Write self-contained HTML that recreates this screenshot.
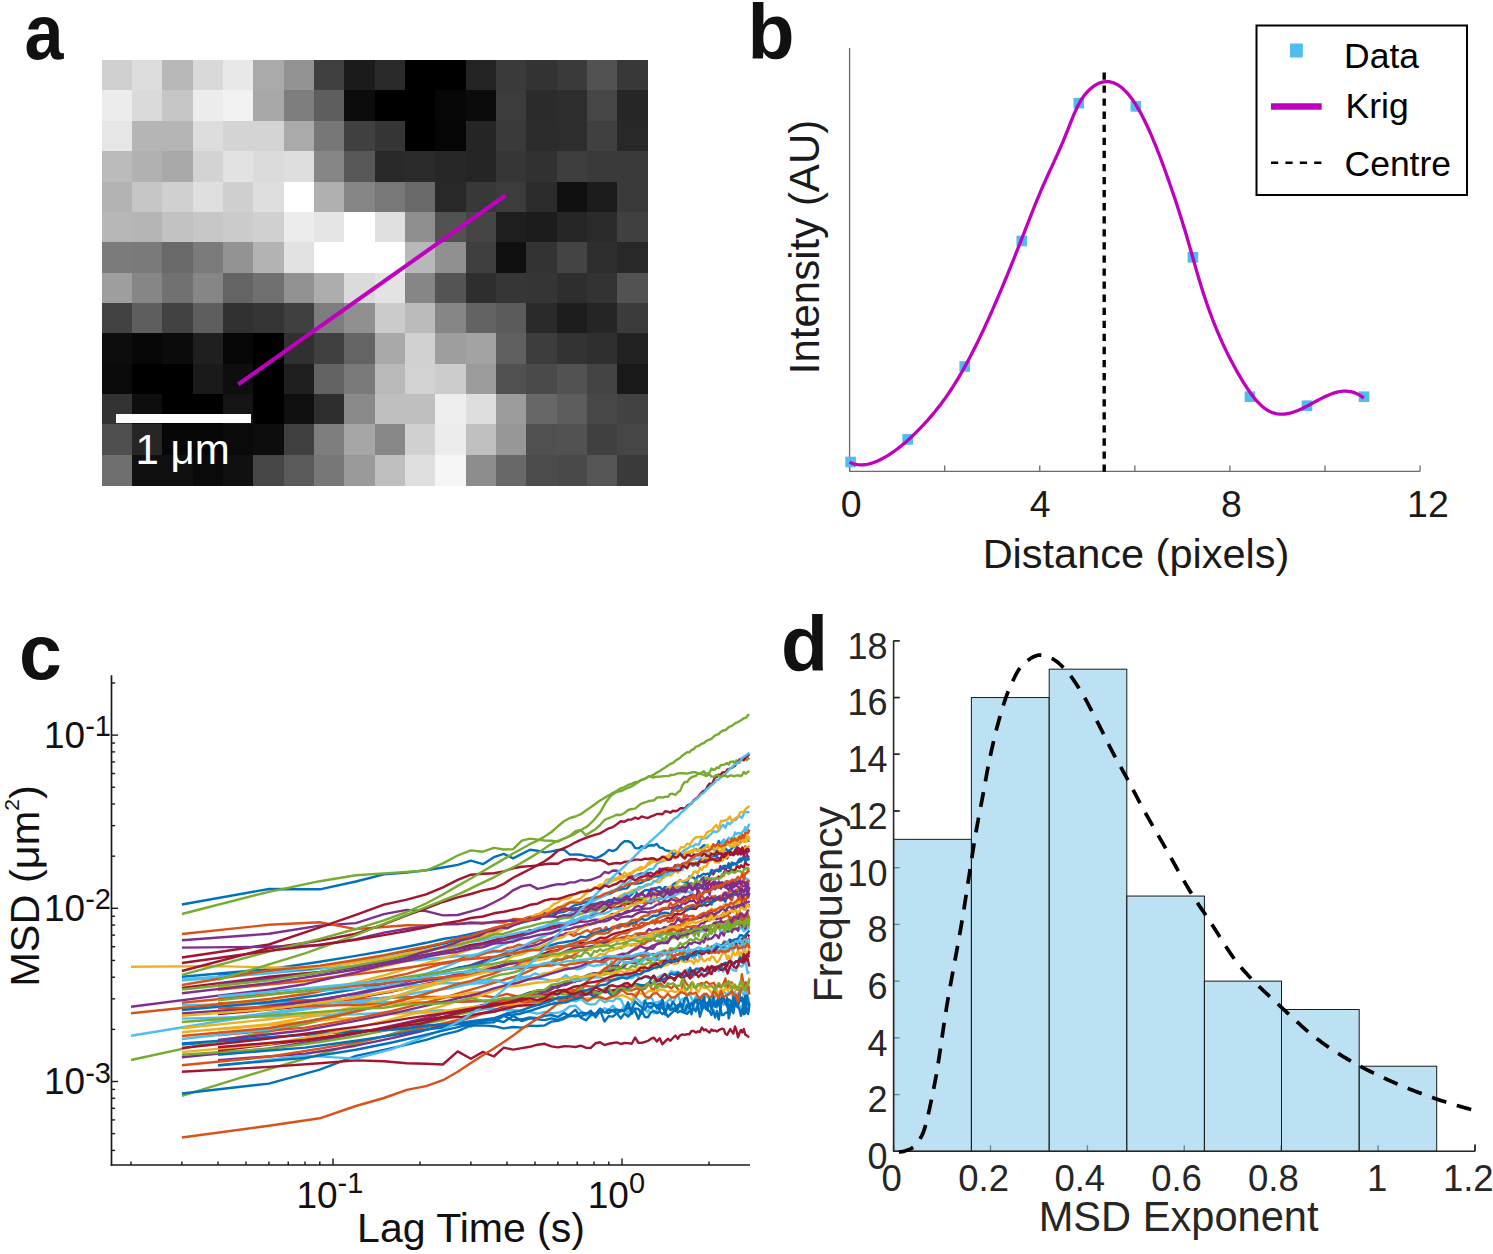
<!DOCTYPE html>
<html><head><meta charset="utf-8"><style>
html,body{margin:0;padding:0;background:#fff;width:1493px;height:1254px;overflow:hidden}
svg{display:block;font-family:"Liberation Sans", sans-serif}
</style></head><body>
<svg width="1493" height="1254" viewBox="0 0 1493 1254">
<rect width="1493" height="1254" fill="#fff"/>
<text transform="matrix(0.91 0 0 1 24.45 0)" x="0" y="59.2" font-size="77" fill="#111" font-weight="bold">a</text>
<text x="747.4" y="59.2" font-size="77" text-anchor="start" fill="#111" font-weight="bold" >b</text>
<text x="19.1" y="678.7" font-size="77" text-anchor="start" fill="#111" font-weight="bold" >c</text>
<text x="780.9" y="670.7" font-size="77" text-anchor="start" fill="#111" font-weight="bold" >d</text>
<g shape-rendering="crispEdges">
<rect x="101.7" y="60.1" width="30.93" height="30.96" fill="rgb(208,208,208)"/>
<rect x="132.03" y="60.1" width="30.93" height="30.96" fill="rgb(221,221,221)"/>
<rect x="162.37" y="60.1" width="30.93" height="30.96" fill="rgb(184,184,184)"/>
<rect x="192.7" y="60.1" width="30.93" height="30.96" fill="rgb(217,217,217)"/>
<rect x="223.03" y="60.1" width="30.93" height="30.96" fill="rgb(232,232,232)"/>
<rect x="253.37" y="60.1" width="30.93" height="30.96" fill="rgb(170,170,170)"/>
<rect x="283.7" y="60.1" width="30.93" height="30.96" fill="rgb(147,147,147)"/>
<rect x="314.03" y="60.1" width="30.93" height="30.96" fill="rgb(64,64,64)"/>
<rect x="344.37" y="60.1" width="30.93" height="30.96" fill="rgb(27,27,27)"/>
<rect x="374.7" y="60.1" width="30.93" height="30.96" fill="rgb(42,42,42)"/>
<rect x="405.03" y="60.1" width="30.93" height="30.96" fill="rgb(0,0,0)"/>
<rect x="435.37" y="60.1" width="30.93" height="30.96" fill="rgb(0,0,0)"/>
<rect x="465.7" y="60.1" width="30.93" height="30.96" fill="rgb(35,35,35)"/>
<rect x="496.03" y="60.1" width="30.93" height="30.96" fill="rgb(58,58,58)"/>
<rect x="526.37" y="60.1" width="30.93" height="30.96" fill="rgb(51,51,51)"/>
<rect x="556.7" y="60.1" width="30.93" height="30.96" fill="rgb(58,58,58)"/>
<rect x="587.03" y="60.1" width="30.93" height="30.96" fill="rgb(82,82,82)"/>
<rect x="617.37" y="60.1" width="30.93" height="30.96" fill="rgb(56,56,56)"/>
<rect x="101.7" y="90.46" width="30.93" height="30.96" fill="rgb(236,236,236)"/>
<rect x="132.03" y="90.46" width="30.93" height="30.96" fill="rgb(218,218,218)"/>
<rect x="162.37" y="90.46" width="30.93" height="30.96" fill="rgb(198,198,198)"/>
<rect x="192.7" y="90.46" width="30.93" height="30.96" fill="rgb(236,236,236)"/>
<rect x="223.03" y="90.46" width="30.93" height="30.96" fill="rgb(242,242,242)"/>
<rect x="253.37" y="90.46" width="30.93" height="30.96" fill="rgb(168,168,168)"/>
<rect x="283.7" y="90.46" width="30.93" height="30.96" fill="rgb(125,125,125)"/>
<rect x="314.03" y="90.46" width="30.93" height="30.96" fill="rgb(94,94,94)"/>
<rect x="344.37" y="90.46" width="30.93" height="30.96" fill="rgb(12,12,12)"/>
<rect x="374.7" y="90.46" width="30.93" height="30.96" fill="rgb(0,0,0)"/>
<rect x="405.03" y="90.46" width="30.93" height="30.96" fill="rgb(0,0,0)"/>
<rect x="435.37" y="90.46" width="30.93" height="30.96" fill="rgb(7,7,7)"/>
<rect x="465.7" y="90.46" width="30.93" height="30.96" fill="rgb(11,11,11)"/>
<rect x="496.03" y="90.46" width="30.93" height="30.96" fill="rgb(60,60,60)"/>
<rect x="526.37" y="90.46" width="30.93" height="30.96" fill="rgb(43,43,43)"/>
<rect x="556.7" y="90.46" width="30.93" height="30.96" fill="rgb(45,45,45)"/>
<rect x="587.03" y="90.46" width="30.93" height="30.96" fill="rgb(70,70,70)"/>
<rect x="617.37" y="90.46" width="30.93" height="30.96" fill="rgb(38,38,38)"/>
<rect x="101.7" y="120.83" width="30.93" height="30.96" fill="rgb(230,230,230)"/>
<rect x="132.03" y="120.83" width="30.93" height="30.96" fill="rgb(181,181,181)"/>
<rect x="162.37" y="120.83" width="30.93" height="30.96" fill="rgb(181,181,181)"/>
<rect x="192.7" y="120.83" width="30.93" height="30.96" fill="rgb(221,221,221)"/>
<rect x="223.03" y="120.83" width="30.93" height="30.96" fill="rgb(212,212,212)"/>
<rect x="253.37" y="120.83" width="30.93" height="30.96" fill="rgb(212,212,212)"/>
<rect x="283.7" y="120.83" width="30.93" height="30.96" fill="rgb(170,170,170)"/>
<rect x="314.03" y="120.83" width="30.93" height="30.96" fill="rgb(119,119,119)"/>
<rect x="344.37" y="120.83" width="30.93" height="30.96" fill="rgb(64,64,64)"/>
<rect x="374.7" y="120.83" width="30.93" height="30.96" fill="rgb(53,53,53)"/>
<rect x="405.03" y="120.83" width="30.93" height="30.96" fill="rgb(0,0,0)"/>
<rect x="435.37" y="120.83" width="30.93" height="30.96" fill="rgb(5,5,5)"/>
<rect x="465.7" y="120.83" width="30.93" height="30.96" fill="rgb(37,37,37)"/>
<rect x="496.03" y="120.83" width="30.93" height="30.96" fill="rgb(58,58,58)"/>
<rect x="526.37" y="120.83" width="30.93" height="30.96" fill="rgb(44,44,44)"/>
<rect x="556.7" y="120.83" width="30.93" height="30.96" fill="rgb(45,45,45)"/>
<rect x="587.03" y="120.83" width="30.93" height="30.96" fill="rgb(64,64,64)"/>
<rect x="617.37" y="120.83" width="30.93" height="30.96" fill="rgb(40,40,40)"/>
<rect x="101.7" y="151.19" width="30.93" height="30.96" fill="rgb(187,187,187)"/>
<rect x="132.03" y="151.19" width="30.93" height="30.96" fill="rgb(177,177,177)"/>
<rect x="162.37" y="151.19" width="30.93" height="30.96" fill="rgb(169,169,169)"/>
<rect x="192.7" y="151.19" width="30.93" height="30.96" fill="rgb(211,211,211)"/>
<rect x="223.03" y="151.19" width="30.93" height="30.96" fill="rgb(226,226,226)"/>
<rect x="253.37" y="151.19" width="30.93" height="30.96" fill="rgb(219,219,219)"/>
<rect x="283.7" y="151.19" width="30.93" height="30.96" fill="rgb(222,222,222)"/>
<rect x="314.03" y="151.19" width="30.93" height="30.96" fill="rgb(134,134,134)"/>
<rect x="344.37" y="151.19" width="30.93" height="30.96" fill="rgb(88,88,88)"/>
<rect x="374.7" y="151.19" width="30.93" height="30.96" fill="rgb(41,41,41)"/>
<rect x="405.03" y="151.19" width="30.93" height="30.96" fill="rgb(43,43,43)"/>
<rect x="435.37" y="151.19" width="30.93" height="30.96" fill="rgb(39,39,39)"/>
<rect x="465.7" y="151.19" width="30.93" height="30.96" fill="rgb(37,37,37)"/>
<rect x="496.03" y="151.19" width="30.93" height="30.96" fill="rgb(54,54,54)"/>
<rect x="526.37" y="151.19" width="30.93" height="30.96" fill="rgb(49,49,49)"/>
<rect x="556.7" y="151.19" width="30.93" height="30.96" fill="rgb(62,62,62)"/>
<rect x="587.03" y="151.19" width="30.93" height="30.96" fill="rgb(58,58,58)"/>
<rect x="617.37" y="151.19" width="30.93" height="30.96" fill="rgb(58,58,58)"/>
<rect x="101.7" y="181.56" width="30.93" height="30.96" fill="rgb(179,179,179)"/>
<rect x="132.03" y="181.56" width="30.93" height="30.96" fill="rgb(198,198,198)"/>
<rect x="162.37" y="181.56" width="30.93" height="30.96" fill="rgb(208,208,208)"/>
<rect x="192.7" y="181.56" width="30.93" height="30.96" fill="rgb(223,223,223)"/>
<rect x="223.03" y="181.56" width="30.93" height="30.96" fill="rgb(207,207,207)"/>
<rect x="253.37" y="181.56" width="30.93" height="30.96" fill="rgb(222,222,222)"/>
<rect x="283.7" y="181.56" width="30.93" height="30.96" fill="rgb(255,255,255)"/>
<rect x="314.03" y="181.56" width="30.93" height="30.96" fill="rgb(176,176,176)"/>
<rect x="344.37" y="181.56" width="30.93" height="30.96" fill="rgb(134,134,134)"/>
<rect x="374.7" y="181.56" width="30.93" height="30.96" fill="rgb(120,120,120)"/>
<rect x="405.03" y="181.56" width="30.93" height="30.96" fill="rgb(105,105,105)"/>
<rect x="435.37" y="181.56" width="30.93" height="30.96" fill="rgb(40,40,40)"/>
<rect x="465.7" y="181.56" width="30.93" height="30.96" fill="rgb(56,56,56)"/>
<rect x="496.03" y="181.56" width="30.93" height="30.96" fill="rgb(60,60,60)"/>
<rect x="526.37" y="181.56" width="30.93" height="30.96" fill="rgb(44,44,44)"/>
<rect x="556.7" y="181.56" width="30.93" height="30.96" fill="rgb(16,16,16)"/>
<rect x="587.03" y="181.56" width="30.93" height="30.96" fill="rgb(28,28,28)"/>
<rect x="617.37" y="181.56" width="30.93" height="30.96" fill="rgb(58,58,58)"/>
<rect x="101.7" y="211.92" width="30.93" height="30.96" fill="rgb(183,183,183)"/>
<rect x="132.03" y="211.92" width="30.93" height="30.96" fill="rgb(181,181,181)"/>
<rect x="162.37" y="211.92" width="30.93" height="30.96" fill="rgb(194,194,194)"/>
<rect x="192.7" y="211.92" width="30.93" height="30.96" fill="rgb(199,199,199)"/>
<rect x="223.03" y="211.92" width="30.93" height="30.96" fill="rgb(203,203,203)"/>
<rect x="253.37" y="211.92" width="30.93" height="30.96" fill="rgb(208,208,208)"/>
<rect x="283.7" y="211.92" width="30.93" height="30.96" fill="rgb(236,236,236)"/>
<rect x="314.03" y="211.92" width="30.93" height="30.96" fill="rgb(229,229,229)"/>
<rect x="344.37" y="211.92" width="30.93" height="30.96" fill="rgb(255,255,255)"/>
<rect x="374.7" y="211.92" width="30.93" height="30.96" fill="rgb(224,224,224)"/>
<rect x="405.03" y="211.92" width="30.93" height="30.96" fill="rgb(143,143,143)"/>
<rect x="435.37" y="211.92" width="30.93" height="30.96" fill="rgb(82,82,82)"/>
<rect x="465.7" y="211.92" width="30.93" height="30.96" fill="rgb(69,69,69)"/>
<rect x="496.03" y="211.92" width="30.93" height="30.96" fill="rgb(30,30,30)"/>
<rect x="526.37" y="211.92" width="30.93" height="30.96" fill="rgb(28,28,28)"/>
<rect x="556.7" y="211.92" width="30.93" height="30.96" fill="rgb(38,38,38)"/>
<rect x="587.03" y="211.92" width="30.93" height="30.96" fill="rgb(43,43,43)"/>
<rect x="617.37" y="211.92" width="30.93" height="30.96" fill="rgb(64,64,64)"/>
<rect x="101.7" y="242.29" width="30.93" height="30.96" fill="rgb(123,123,123)"/>
<rect x="132.03" y="242.29" width="30.93" height="30.96" fill="rgb(122,122,122)"/>
<rect x="162.37" y="242.29" width="30.93" height="30.96" fill="rgb(105,105,105)"/>
<rect x="192.7" y="242.29" width="30.93" height="30.96" fill="rgb(123,123,123)"/>
<rect x="223.03" y="242.29" width="30.93" height="30.96" fill="rgb(147,147,147)"/>
<rect x="253.37" y="242.29" width="30.93" height="30.96" fill="rgb(179,179,179)"/>
<rect x="283.7" y="242.29" width="30.93" height="30.96" fill="rgb(226,226,226)"/>
<rect x="314.03" y="242.29" width="30.93" height="30.96" fill="rgb(255,255,255)"/>
<rect x="344.37" y="242.29" width="30.93" height="30.96" fill="rgb(255,255,255)"/>
<rect x="374.7" y="242.29" width="30.93" height="30.96" fill="rgb(255,255,255)"/>
<rect x="405.03" y="242.29" width="30.93" height="30.96" fill="rgb(184,184,184)"/>
<rect x="435.37" y="242.29" width="30.93" height="30.96" fill="rgb(144,144,144)"/>
<rect x="465.7" y="242.29" width="30.93" height="30.96" fill="rgb(63,63,63)"/>
<rect x="496.03" y="242.29" width="30.93" height="30.96" fill="rgb(16,16,16)"/>
<rect x="526.37" y="242.29" width="30.93" height="30.96" fill="rgb(51,51,51)"/>
<rect x="556.7" y="242.29" width="30.93" height="30.96" fill="rgb(68,68,68)"/>
<rect x="587.03" y="242.29" width="30.93" height="30.96" fill="rgb(46,46,46)"/>
<rect x="617.37" y="242.29" width="30.93" height="30.96" fill="rgb(40,40,40)"/>
<rect x="101.7" y="272.65" width="30.93" height="30.96" fill="rgb(158,158,158)"/>
<rect x="132.03" y="272.65" width="30.93" height="30.96" fill="rgb(134,134,134)"/>
<rect x="162.37" y="272.65" width="30.93" height="30.96" fill="rgb(113,113,113)"/>
<rect x="192.7" y="272.65" width="30.93" height="30.96" fill="rgb(134,134,134)"/>
<rect x="223.03" y="272.65" width="30.93" height="30.96" fill="rgb(100,100,100)"/>
<rect x="253.37" y="272.65" width="30.93" height="30.96" fill="rgb(112,112,112)"/>
<rect x="283.7" y="272.65" width="30.93" height="30.96" fill="rgb(146,146,146)"/>
<rect x="314.03" y="272.65" width="30.93" height="30.96" fill="rgb(173,173,173)"/>
<rect x="344.37" y="272.65" width="30.93" height="30.96" fill="rgb(219,219,219)"/>
<rect x="374.7" y="272.65" width="30.93" height="30.96" fill="rgb(227,227,227)"/>
<rect x="405.03" y="272.65" width="30.93" height="30.96" fill="rgb(134,134,134)"/>
<rect x="435.37" y="272.65" width="30.93" height="30.96" fill="rgb(84,84,84)"/>
<rect x="465.7" y="272.65" width="30.93" height="30.96" fill="rgb(46,46,46)"/>
<rect x="496.03" y="272.65" width="30.93" height="30.96" fill="rgb(54,54,54)"/>
<rect x="526.37" y="272.65" width="30.93" height="30.96" fill="rgb(53,53,53)"/>
<rect x="556.7" y="272.65" width="30.93" height="30.96" fill="rgb(46,46,46)"/>
<rect x="587.03" y="272.65" width="30.93" height="30.96" fill="rgb(51,51,51)"/>
<rect x="617.37" y="272.65" width="30.93" height="30.96" fill="rgb(82,82,82)"/>
<rect x="101.7" y="303.01" width="30.93" height="30.96" fill="rgb(66,66,66)"/>
<rect x="132.03" y="303.01" width="30.93" height="30.96" fill="rgb(94,94,94)"/>
<rect x="162.37" y="303.01" width="30.93" height="30.96" fill="rgb(66,66,66)"/>
<rect x="192.7" y="303.01" width="30.93" height="30.96" fill="rgb(94,94,94)"/>
<rect x="223.03" y="303.01" width="30.93" height="30.96" fill="rgb(49,49,49)"/>
<rect x="253.37" y="303.01" width="30.93" height="30.96" fill="rgb(53,53,53)"/>
<rect x="283.7" y="303.01" width="30.93" height="30.96" fill="rgb(64,64,64)"/>
<rect x="314.03" y="303.01" width="30.93" height="30.96" fill="rgb(125,125,125)"/>
<rect x="344.37" y="303.01" width="30.93" height="30.96" fill="rgb(144,144,144)"/>
<rect x="374.7" y="303.01" width="30.93" height="30.96" fill="rgb(203,203,203)"/>
<rect x="405.03" y="303.01" width="30.93" height="30.96" fill="rgb(187,187,187)"/>
<rect x="435.37" y="303.01" width="30.93" height="30.96" fill="rgb(134,134,134)"/>
<rect x="465.7" y="303.01" width="30.93" height="30.96" fill="rgb(99,99,99)"/>
<rect x="496.03" y="303.01" width="30.93" height="30.96" fill="rgb(91,91,91)"/>
<rect x="526.37" y="303.01" width="30.93" height="30.96" fill="rgb(42,42,42)"/>
<rect x="556.7" y="303.01" width="30.93" height="30.96" fill="rgb(29,29,29)"/>
<rect x="587.03" y="303.01" width="30.93" height="30.96" fill="rgb(37,37,37)"/>
<rect x="617.37" y="303.01" width="30.93" height="30.96" fill="rgb(59,59,59)"/>
<rect x="101.7" y="333.38" width="30.93" height="30.96" fill="rgb(13,13,13)"/>
<rect x="132.03" y="333.38" width="30.93" height="30.96" fill="rgb(7,7,7)"/>
<rect x="162.37" y="333.38" width="30.93" height="30.96" fill="rgb(11,11,11)"/>
<rect x="192.7" y="333.38" width="30.93" height="30.96" fill="rgb(31,31,31)"/>
<rect x="223.03" y="333.38" width="30.93" height="30.96" fill="rgb(7,7,7)"/>
<rect x="253.37" y="333.38" width="30.93" height="30.96" fill="rgb(0,0,0)"/>
<rect x="283.7" y="333.38" width="30.93" height="30.96" fill="rgb(48,48,48)"/>
<rect x="314.03" y="333.38" width="30.93" height="30.96" fill="rgb(64,64,64)"/>
<rect x="344.37" y="333.38" width="30.93" height="30.96" fill="rgb(100,100,100)"/>
<rect x="374.7" y="333.38" width="30.93" height="30.96" fill="rgb(169,169,169)"/>
<rect x="405.03" y="333.38" width="30.93" height="30.96" fill="rgb(209,209,209)"/>
<rect x="435.37" y="333.38" width="30.93" height="30.96" fill="rgb(158,158,158)"/>
<rect x="465.7" y="333.38" width="30.93" height="30.96" fill="rgb(163,163,163)"/>
<rect x="496.03" y="333.38" width="30.93" height="30.96" fill="rgb(96,96,96)"/>
<rect x="526.37" y="333.38" width="30.93" height="30.96" fill="rgb(61,61,61)"/>
<rect x="556.7" y="333.38" width="30.93" height="30.96" fill="rgb(51,51,51)"/>
<rect x="587.03" y="333.38" width="30.93" height="30.96" fill="rgb(47,47,47)"/>
<rect x="617.37" y="333.38" width="30.93" height="30.96" fill="rgb(34,34,34)"/>
<rect x="101.7" y="363.74" width="30.93" height="30.96" fill="rgb(10,10,10)"/>
<rect x="132.03" y="363.74" width="30.93" height="30.96" fill="rgb(0,0,0)"/>
<rect x="162.37" y="363.74" width="30.93" height="30.96" fill="rgb(0,0,0)"/>
<rect x="192.7" y="363.74" width="30.93" height="30.96" fill="rgb(26,26,26)"/>
<rect x="223.03" y="363.74" width="30.93" height="30.96" fill="rgb(14,14,14)"/>
<rect x="253.37" y="363.74" width="30.93" height="30.96" fill="rgb(0,0,0)"/>
<rect x="283.7" y="363.74" width="30.93" height="30.96" fill="rgb(31,31,31)"/>
<rect x="314.03" y="363.74" width="30.93" height="30.96" fill="rgb(99,99,99)"/>
<rect x="344.37" y="363.74" width="30.93" height="30.96" fill="rgb(122,122,122)"/>
<rect x="374.7" y="363.74" width="30.93" height="30.96" fill="rgb(185,185,185)"/>
<rect x="405.03" y="363.74" width="30.93" height="30.96" fill="rgb(210,210,210)"/>
<rect x="435.37" y="363.74" width="30.93" height="30.96" fill="rgb(204,204,204)"/>
<rect x="465.7" y="363.74" width="30.93" height="30.96" fill="rgb(155,155,155)"/>
<rect x="496.03" y="363.74" width="30.93" height="30.96" fill="rgb(80,80,80)"/>
<rect x="526.37" y="363.74" width="30.93" height="30.96" fill="rgb(74,74,74)"/>
<rect x="556.7" y="363.74" width="30.93" height="30.96" fill="rgb(82,82,82)"/>
<rect x="587.03" y="363.74" width="30.93" height="30.96" fill="rgb(68,68,68)"/>
<rect x="617.37" y="363.74" width="30.93" height="30.96" fill="rgb(25,25,25)"/>
<rect x="101.7" y="394.11" width="30.93" height="30.96" fill="rgb(51,51,51)"/>
<rect x="132.03" y="394.11" width="30.93" height="30.96" fill="rgb(14,14,14)"/>
<rect x="162.37" y="394.11" width="30.93" height="30.96" fill="rgb(0,0,0)"/>
<rect x="192.7" y="394.11" width="30.93" height="30.96" fill="rgb(0,0,0)"/>
<rect x="223.03" y="394.11" width="30.93" height="30.96" fill="rgb(20,20,20)"/>
<rect x="253.37" y="394.11" width="30.93" height="30.96" fill="rgb(0,0,0)"/>
<rect x="283.7" y="394.11" width="30.93" height="30.96" fill="rgb(15,15,15)"/>
<rect x="314.03" y="394.11" width="30.93" height="30.96" fill="rgb(46,46,46)"/>
<rect x="344.37" y="394.11" width="30.93" height="30.96" fill="rgb(138,138,138)"/>
<rect x="374.7" y="394.11" width="30.93" height="30.96" fill="rgb(191,191,191)"/>
<rect x="405.03" y="394.11" width="30.93" height="30.96" fill="rgb(191,191,191)"/>
<rect x="435.37" y="394.11" width="30.93" height="30.96" fill="rgb(238,238,238)"/>
<rect x="465.7" y="394.11" width="30.93" height="30.96" fill="rgb(222,222,222)"/>
<rect x="496.03" y="394.11" width="30.93" height="30.96" fill="rgb(156,156,156)"/>
<rect x="526.37" y="394.11" width="30.93" height="30.96" fill="rgb(103,103,103)"/>
<rect x="556.7" y="394.11" width="30.93" height="30.96" fill="rgb(93,93,93)"/>
<rect x="587.03" y="394.11" width="30.93" height="30.96" fill="rgb(72,72,72)"/>
<rect x="617.37" y="394.11" width="30.93" height="30.96" fill="rgb(66,66,66)"/>
<rect x="101.7" y="424.47" width="30.93" height="30.96" fill="rgb(79,79,79)"/>
<rect x="132.03" y="424.47" width="30.93" height="30.96" fill="rgb(38,38,38)"/>
<rect x="162.37" y="424.47" width="30.93" height="30.96" fill="rgb(7,7,7)"/>
<rect x="192.7" y="424.47" width="30.93" height="30.96" fill="rgb(7,7,7)"/>
<rect x="223.03" y="424.47" width="30.93" height="30.96" fill="rgb(10,10,10)"/>
<rect x="253.37" y="424.47" width="30.93" height="30.96" fill="rgb(13,13,13)"/>
<rect x="283.7" y="424.47" width="30.93" height="30.96" fill="rgb(64,64,64)"/>
<rect x="314.03" y="424.47" width="30.93" height="30.96" fill="rgb(126,126,126)"/>
<rect x="344.37" y="424.47" width="30.93" height="30.96" fill="rgb(166,166,166)"/>
<rect x="374.7" y="424.47" width="30.93" height="30.96" fill="rgb(135,135,135)"/>
<rect x="405.03" y="424.47" width="30.93" height="30.96" fill="rgb(208,208,208)"/>
<rect x="435.37" y="424.47" width="30.93" height="30.96" fill="rgb(236,236,236)"/>
<rect x="465.7" y="424.47" width="30.93" height="30.96" fill="rgb(192,192,192)"/>
<rect x="496.03" y="424.47" width="30.93" height="30.96" fill="rgb(151,151,151)"/>
<rect x="526.37" y="424.47" width="30.93" height="30.96" fill="rgb(80,80,80)"/>
<rect x="556.7" y="424.47" width="30.93" height="30.96" fill="rgb(82,82,82)"/>
<rect x="587.03" y="424.47" width="30.93" height="30.96" fill="rgb(64,64,64)"/>
<rect x="617.37" y="424.47" width="30.93" height="30.96" fill="rgb(70,70,70)"/>
<rect x="101.7" y="454.84" width="30.93" height="30.96" fill="rgb(111,111,111)"/>
<rect x="132.03" y="454.84" width="30.93" height="30.96" fill="rgb(16,16,16)"/>
<rect x="162.37" y="454.84" width="30.93" height="30.96" fill="rgb(16,16,16)"/>
<rect x="192.7" y="454.84" width="30.93" height="30.96" fill="rgb(10,10,10)"/>
<rect x="223.03" y="454.84" width="30.93" height="30.96" fill="rgb(16,16,16)"/>
<rect x="253.37" y="454.84" width="30.93" height="30.96" fill="rgb(70,70,70)"/>
<rect x="283.7" y="454.84" width="30.93" height="30.96" fill="rgb(90,90,90)"/>
<rect x="314.03" y="454.84" width="30.93" height="30.96" fill="rgb(119,119,119)"/>
<rect x="344.37" y="454.84" width="30.93" height="30.96" fill="rgb(154,154,154)"/>
<rect x="374.7" y="454.84" width="30.93" height="30.96" fill="rgb(191,191,191)"/>
<rect x="405.03" y="454.84" width="30.93" height="30.96" fill="rgb(223,223,223)"/>
<rect x="435.37" y="454.84" width="30.93" height="30.96" fill="rgb(245,245,245)"/>
<rect x="465.7" y="454.84" width="30.93" height="30.96" fill="rgb(140,140,140)"/>
<rect x="496.03" y="454.84" width="30.93" height="30.96" fill="rgb(104,104,104)"/>
<rect x="526.37" y="454.84" width="30.93" height="30.96" fill="rgb(76,76,76)"/>
<rect x="556.7" y="454.84" width="30.93" height="30.96" fill="rgb(73,73,73)"/>
<rect x="587.03" y="454.84" width="30.93" height="30.96" fill="rgb(85,85,85)"/>
<rect x="617.37" y="454.84" width="30.93" height="30.96" fill="rgb(58,58,58)"/>
</g>
<line x1="238.2" y1="384.4" x2="505.4" y2="195.5" stroke="#BF00BF" stroke-width="4"/>
<rect x="116" y="414" width="135" height="9" fill="#fff"/>
<text x="135.5" y="463.8" font-size="42" text-anchor="start" fill="#fff" font-weight="normal" >1 μm</text>
<line x1="849.6" y1="48" x2="849.6" y2="471.4" stroke="#6a6a6a" stroke-width="1.3"/>
<line x1="849.6" y1="471.4" x2="1420.08" y2="471.4" stroke="#6a6a6a" stroke-width="1.3"/>
<line x1="849.6" y1="471.4" x2="849.6" y2="465.4" stroke="#6a6a6a" stroke-width="1.3"/>
<line x1="944.68" y1="471.4" x2="944.68" y2="465.4" stroke="#6a6a6a" stroke-width="1.3"/>
<line x1="1039.76" y1="471.4" x2="1039.76" y2="465.4" stroke="#6a6a6a" stroke-width="1.3"/>
<line x1="1134.84" y1="471.4" x2="1134.84" y2="465.4" stroke="#6a6a6a" stroke-width="1.3"/>
<line x1="1229.92" y1="471.4" x2="1229.92" y2="465.4" stroke="#6a6a6a" stroke-width="1.3"/>
<line x1="1325" y1="471.4" x2="1325" y2="465.4" stroke="#6a6a6a" stroke-width="1.3"/>
<line x1="1420.08" y1="471.4" x2="1420.08" y2="465.4" stroke="#6a6a6a" stroke-width="1.3"/>
<text x="851.2" y="517.1" font-size="37.5" text-anchor="middle" fill="#1a1a1a" font-weight="normal" >0</text>
<text x="1040.2" y="517.1" font-size="37.5" text-anchor="middle" fill="#1a1a1a" font-weight="normal" >4</text>
<text x="1231.4" y="517.1" font-size="37.5" text-anchor="middle" fill="#1a1a1a" font-weight="normal" >8</text>
<text x="1427.9" y="517.1" font-size="37.5" text-anchor="middle" fill="#1a1a1a" font-weight="normal" >12</text>
<text x="1136" y="568" font-size="41.5" text-anchor="middle" fill="#1a1a1a" font-weight="normal" >Distance (pixels)</text>
<text transform="translate(819,247) rotate(-90)" font-size="42" text-anchor="middle" fill="#1a1a1a">Intensity (AU)</text>
<rect x="845.3" y="456.7" width="10.6" height="10.6" fill="#4DBEEE"/>
<rect x="902.35" y="434.1" width="10.6" height="10.6" fill="#4DBEEE"/>
<rect x="959.4" y="361.2" width="10.6" height="10.6" fill="#4DBEEE"/>
<rect x="1016.44" y="235.7" width="10.6" height="10.6" fill="#4DBEEE"/>
<rect x="1073.49" y="97.9" width="10.6" height="10.6" fill="#4DBEEE"/>
<rect x="1130.54" y="101.1" width="10.6" height="10.6" fill="#4DBEEE"/>
<rect x="1187.59" y="252" width="10.6" height="10.6" fill="#4DBEEE"/>
<rect x="1244.64" y="391.4" width="10.6" height="10.6" fill="#4DBEEE"/>
<rect x="1301.68" y="400.4" width="10.6" height="10.6" fill="#4DBEEE"/>
<rect x="1358.73" y="391.4" width="10.6" height="10.6" fill="#4DBEEE"/>
<line x1="1104.2" y1="471.8" x2="1104.2" y2="72.5" stroke="#000" stroke-width="3.4" stroke-dasharray="7.3 5.77"/>
<polyline points="849.5,462.29 851.22,463 852.94,463.59 854.66,464.06 856.38,464.42 858.1,464.66 859.82,464.79 861.54,464.83 863.26,464.76 864.98,464.6 866.7,464.34 868.42,464 870.14,463.58 871.86,463.09 873.58,462.52 875.3,461.88 877.02,461.17 878.74,460.41 880.46,459.59 882.18,458.72 883.9,457.8 885.62,456.83 887.34,455.81 889.06,454.74 890.78,453.62 892.5,452.46 894.22,451.26 895.94,450.01 897.66,448.72 899.38,447.38 901.1,446.01 902.82,444.59 904.54,443.14 906.26,441.64 907.98,440.11 909.7,438.54 911.42,436.94 913.14,435.3 914.86,433.63 916.58,431.92 918.3,430.19 920.02,428.42 921.74,426.62 923.46,424.79 925.18,422.93 926.9,421.03 928.62,419.1 930.34,417.12 932.06,415.11 933.78,413.06 935.5,410.96 937.22,408.82 938.94,406.62 940.66,404.38 942.38,402.09 944.1,399.74 945.82,397.34 947.54,394.89 949.26,392.37 950.98,389.79 952.7,387.16 954.42,384.45 956.14,381.69 957.86,378.85 959.58,375.95 961.3,372.99 963.02,369.97 964.74,366.89 966.46,363.75 968.18,360.55 969.9,357.29 971.62,353.98 973.34,350.61 975.06,347.19 976.78,343.72 978.51,340.2 980.23,336.63 981.95,333.01 983.67,329.34 985.39,325.63 987.11,321.88 988.83,318.08 990.55,314.24 992.27,310.36 993.99,306.44 995.71,302.48 997.43,298.48 999.15,294.45 1000.87,290.39 1002.59,286.29 1004.31,282.16 1006.03,278 1007.75,273.81 1009.47,269.59 1011.19,265.35 1012.91,261.08 1014.63,256.78 1016.35,252.47 1018.07,248.13 1019.79,243.76 1021.51,239.39 1023.23,234.99 1024.95,230.59 1026.67,226.18 1028.39,221.79 1030.11,217.41 1031.83,213.06 1033.55,208.74 1035.27,204.46 1036.99,200.23 1038.71,196.06 1040.43,191.95 1042.15,187.92 1043.87,183.97 1045.59,180.1 1047.31,176.3 1049.03,172.54 1050.75,168.82 1052.47,165.11 1054.19,161.4 1055.91,157.66 1057.63,153.87 1059.35,150.02 1061.07,146.09 1062.79,142.05 1064.51,137.9 1066.23,133.62 1067.95,129.27 1069.67,124.92 1071.39,120.61 1073.11,116.41 1074.83,112.38 1076.55,108.59 1078.27,105.09 1079.99,101.94 1081.71,99.12 1083.43,96.61 1085.15,94.37 1086.87,92.37 1088.59,90.57 1090.31,88.95 1092.03,87.49 1093.75,86.19 1095.47,85.05 1097.19,84.07 1098.91,83.25 1100.63,82.6 1102.35,82.1 1104.07,81.77 1105.79,81.59 1107.51,81.58 1109.23,81.73 1110.95,82.04 1112.67,82.51 1114.39,83.15 1116.11,83.94 1117.83,84.9 1119.55,86.02 1121.27,87.3 1122.99,88.74 1124.71,90.35 1126.43,92.12 1128.15,94.05 1129.87,96.14 1131.59,98.4 1133.31,100.81 1135.03,103.39 1136.75,106.14 1138.47,109.04 1140.19,112.1 1141.91,115.31 1143.63,118.66 1145.35,122.15 1147.07,125.78 1148.79,129.54 1150.51,133.42 1152.23,137.41 1153.95,141.52 1155.67,145.74 1157.39,150.06 1159.11,154.48 1160.83,158.99 1162.55,163.58 1164.27,168.26 1165.99,173.02 1167.71,177.84 1169.43,182.73 1171.15,187.69 1172.87,192.72 1174.59,197.83 1176.31,203.02 1178.03,208.29 1179.75,213.66 1181.47,219.11 1183.19,224.67 1184.91,230.32 1186.63,236.08 1188.35,241.96 1190.07,247.94 1191.79,254 1193.51,260.09 1195.23,266.16 1196.95,272.16 1198.67,278.04 1200.39,283.75 1202.11,289.28 1203.83,294.64 1205.55,299.82 1207.27,304.84 1208.99,309.71 1210.71,314.41 1212.43,318.98 1214.15,323.4 1215.87,327.68 1217.59,331.84 1219.31,335.87 1221.03,339.78 1222.75,343.58 1224.47,347.27 1226.19,350.86 1227.91,354.36 1229.63,357.76 1231.35,361.08 1233.07,364.32 1234.79,367.49 1236.52,370.6 1238.24,373.64 1239.96,376.61 1241.68,379.51 1243.4,382.33 1245.12,385.07 1246.84,387.71 1248.56,390.26 1250.28,392.71 1252,395.05 1253.72,397.27 1255.44,399.37 1257.16,401.34 1258.88,403.18 1260.6,404.88 1262.32,406.44 1264.04,407.84 1265.76,409.09 1267.48,410.19 1269.2,411.14 1270.92,411.95 1272.64,412.62 1274.36,413.16 1276.08,413.58 1277.8,413.88 1279.52,414.07 1281.24,414.15 1282.96,414.13 1284.68,414.01 1286.4,413.79 1288.12,413.5 1289.84,413.12 1291.56,412.66 1293.28,412.14 1295,411.55 1296.72,410.91 1298.44,410.21 1300.16,409.46 1301.88,408.67 1303.6,407.84 1305.32,406.98 1307.04,406.1 1308.76,405.19 1310.48,404.27 1312.2,403.34 1313.92,402.41 1315.64,401.48 1317.36,400.55 1319.08,399.64 1320.8,398.74 1322.52,397.87 1324.24,397.03 1325.96,396.22 1327.68,395.45 1329.4,394.72 1331.12,394.05 1332.84,393.43 1334.56,392.88 1336.28,392.39 1338,391.97 1339.72,391.63 1341.44,391.38 1343.16,391.21 1344.88,391.14 1346.6,391.16 1348.32,391.3 1350.04,391.54 1351.76,391.9 1353.48,392.38 1355.2,392.99 1356.92,393.73 1358.64,394.61 1360.36,395.64 1362.08,396.81 1363.8,398.14" fill="none" stroke="#BF00BF" stroke-width="3.3" stroke-linejoin="round"/>
<rect x="1256.5" y="25.5" width="210.5" height="169.5" fill="#fff" stroke="#000" stroke-width="2"/>
<rect x="1290" y="43.5" width="12.8" height="14" fill="#4DBEEE"/>
<line x1="1271" y1="106.5" x2="1321.7" y2="106.5" stroke="#BF00BF" stroke-width="6.4"/>
<line x1="1271" y1="162.7" x2="1321.7" y2="162.7" stroke="#000" stroke-width="2.6" stroke-dasharray="7.2 7.2"/>
<text x="1344" y="67.9" font-size="35.5" text-anchor="start" fill="#000" font-weight="normal" >Data</text>
<text x="1345.5" y="117.7" font-size="35.5" text-anchor="start" fill="#000" font-weight="normal" >Krig</text>
<text x="1344.5" y="175.6" font-size="35.5" text-anchor="start" fill="#000" font-weight="normal" >Centre</text>
<g stroke="#262626" stroke-width="1.4">
<line x1="893.6" y1="1151.3" x2="899.6" y2="1151.3"/>
<line x1="893.6" y1="1094.58" x2="899.6" y2="1094.58"/>
<line x1="893.6" y1="1037.86" x2="899.6" y2="1037.86"/>
<line x1="893.6" y1="981.14" x2="899.6" y2="981.14"/>
<line x1="893.6" y1="924.42" x2="899.6" y2="924.42"/>
<line x1="893.6" y1="867.7" x2="899.6" y2="867.7"/>
<line x1="893.6" y1="810.98" x2="899.6" y2="810.98"/>
<line x1="893.6" y1="754.26" x2="899.6" y2="754.26"/>
<line x1="893.6" y1="697.54" x2="899.6" y2="697.54"/>
<line x1="893.6" y1="640.82" x2="899.6" y2="640.82"/>
<line x1="893.6" y1="1151.3" x2="893.6" y2="1145.3"/>
<line x1="990.5" y1="1151.3" x2="990.5" y2="1145.3"/>
<line x1="1087.4" y1="1151.3" x2="1087.4" y2="1145.3"/>
<line x1="1184.3" y1="1151.3" x2="1184.3" y2="1145.3"/>
<line x1="1281.2" y1="1151.3" x2="1281.2" y2="1145.3"/>
<line x1="1378.1" y1="1151.3" x2="1378.1" y2="1145.3"/>
<line x1="1475" y1="1151.3" x2="1475" y2="1145.3"/>
</g>
<rect x="893.6" y="839.34" width="77.8" height="311.96" fill="rgb(142,205,235)" fill-opacity="0.6" stroke="#1a1a1a" stroke-width="1"/>
<rect x="971.4" y="697.54" width="77.8" height="453.76" fill="rgb(142,205,235)" fill-opacity="0.6" stroke="#1a1a1a" stroke-width="1"/>
<rect x="1049.2" y="669.18" width="77.6" height="482.12" fill="rgb(142,205,235)" fill-opacity="0.6" stroke="#1a1a1a" stroke-width="1"/>
<rect x="1126.8" y="896.06" width="77.6" height="255.24" fill="rgb(142,205,235)" fill-opacity="0.6" stroke="#1a1a1a" stroke-width="1"/>
<rect x="1204.4" y="981.14" width="77.1" height="170.16" fill="rgb(142,205,235)" fill-opacity="0.6" stroke="#1a1a1a" stroke-width="1"/>
<rect x="1281.5" y="1009.5" width="77.7" height="141.8" fill="rgb(142,205,235)" fill-opacity="0.6" stroke="#1a1a1a" stroke-width="1"/>
<rect x="1359.2" y="1066.22" width="77.5" height="85.08" fill="rgb(142,205,235)" fill-opacity="0.6" stroke="#1a1a1a" stroke-width="1"/>
<line x1="893.6" y1="640.82" x2="893.6" y2="1151.3" stroke="#262626" stroke-width="1.6"/>
<line x1="893.6" y1="1151.3" x2="1475" y2="1151.3" stroke="#262626" stroke-width="1.6"/>
<line x1="893.6" y1="640.82" x2="899.6" y2="640.82" stroke="#262626" stroke-width="1.4"/>
<line x1="893.6" y1="810.98" x2="899.6" y2="810.98" stroke="#262626" stroke-width="1.4"/>
<line x1="893.6" y1="754.26" x2="899.6" y2="754.26" stroke="#262626" stroke-width="1.4"/>
<line x1="893.6" y1="697.54" x2="899.6" y2="697.54" stroke="#262626" stroke-width="1.4"/>
<line x1="1475" y1="1151.3" x2="1475" y2="1144.3" stroke="#262626" stroke-width="1.4"/>
<text x="887.6" y="1169.2" font-size="36" text-anchor="end" fill="#262626" font-weight="normal" >0</text>
<text x="887.6" y="1112.48" font-size="36" text-anchor="end" fill="#262626" font-weight="normal" >2</text>
<text x="887.6" y="1055.76" font-size="36" text-anchor="end" fill="#262626" font-weight="normal" >4</text>
<text x="887.6" y="999.04" font-size="36" text-anchor="end" fill="#262626" font-weight="normal" >6</text>
<text x="887.6" y="942.32" font-size="36" text-anchor="end" fill="#262626" font-weight="normal" >8</text>
<text x="887.6" y="885.6" font-size="36" text-anchor="end" fill="#262626" font-weight="normal" >10</text>
<text x="887.6" y="828.88" font-size="36" text-anchor="end" fill="#262626" font-weight="normal" >12</text>
<text x="887.6" y="772.16" font-size="36" text-anchor="end" fill="#262626" font-weight="normal" >14</text>
<text x="887.6" y="715.44" font-size="36" text-anchor="end" fill="#262626" font-weight="normal" >16</text>
<text x="887.6" y="658.72" font-size="36" text-anchor="end" fill="#262626" font-weight="normal" >18</text>
<text x="891.6" y="1190.6" font-size="36.5" text-anchor="middle" fill="#262626" font-weight="normal" >0</text>
<text x="983.6" y="1190.6" font-size="36.5" text-anchor="middle" fill="#262626" font-weight="normal" >0.2</text>
<text x="1079.8" y="1190.6" font-size="36.5" text-anchor="middle" fill="#262626" font-weight="normal" >0.4</text>
<text x="1176.5" y="1190.6" font-size="36.5" text-anchor="middle" fill="#262626" font-weight="normal" >0.6</text>
<text x="1273.4" y="1190.6" font-size="36.5" text-anchor="middle" fill="#262626" font-weight="normal" >0.8</text>
<text x="1377.2" y="1190.6" font-size="36.5" text-anchor="middle" fill="#262626" font-weight="normal" >1</text>
<text x="1468.3" y="1190.6" font-size="36.5" text-anchor="middle" fill="#262626" font-weight="normal" >1.2</text>
<text x="1178.6" y="1231.4" font-size="41.6" text-anchor="middle" fill="#262626" font-weight="normal" >MSD Exponent</text>
<text transform="translate(841.7,904.5) rotate(-90)" font-size="41.5" text-anchor="middle" fill="#262626">Frequency</text>
<polyline points="899,1151.9 900.44,1151.84 901.87,1151.67 903.31,1151.39 904.75,1151.03 906.19,1150.58 907.62,1150.06 909.06,1149.49 910.5,1148.86 911.93,1148.18 913.37,1147.26 914.81,1145.99 916.25,1144.39 917.68,1142.5 919.12,1140.35 920.56,1137.95 921.99,1135.33 923.43,1131.97 924.87,1127.67 926.3,1122.54 927.74,1116.75 929.18,1110.42 930.62,1103.69 932.05,1096.7 933.49,1089.6 934.93,1082.43 936.36,1074.51 937.8,1065.8 939.24,1056.5 940.68,1046.81 942.11,1036.94 943.55,1027.1 944.99,1017.49 946.42,1008.31 947.86,999.7 949.3,991.42 950.74,983.37 952.17,975.47 953.61,967.68 955.05,959.93 956.48,952.16 957.92,944.3 959.36,936.3 960.79,928.09 962.23,919.61 963.67,910.79 965.11,901.67 966.54,892.38 967.98,883.04 969.42,873.75 970.85,864.49 972.29,855.08 973.73,845.77 975.17,836.87 976.6,828.57 978.04,820.73 979.48,813.15 980.91,805.67 982.35,798.1 983.79,790.27 985.23,782.29 986.66,774.37 988.1,766.75 989.54,759.65 990.97,752.92 992.41,746.39 993.85,740.09 995.29,734.05 996.72,728.32 998.16,722.93 999.6,717.86 1001.03,712.92 1002.47,708.12 1003.91,703.52 1005.34,699.14 1006.78,695.02 1008.22,691.21 1009.66,687.74 1011.09,684.58 1012.53,681.51 1013.97,678.52 1015.4,675.66 1016.84,672.95 1018.28,670.44 1019.72,668.17 1021.15,666.17 1022.59,664.49 1024.03,663.16 1025.46,662.04 1026.9,660.96 1028.34,659.92 1029.78,658.94 1031.21,658.04 1032.65,657.22 1034.09,656.51 1035.52,655.92 1036.96,655.46 1038.4,655.15 1039.84,655.01 1041.27,655.04 1042.71,655.22 1044.15,655.53 1045.58,655.94 1047.02,656.45 1048.46,657.01 1049.89,657.62 1051.33,658.25 1052.77,658.91 1054.21,659.72 1055.64,660.67 1057.08,661.76 1058.52,662.95 1059.95,664.24 1061.39,665.61 1062.83,667.03 1064.27,668.5 1065.7,670 1067.14,671.56 1068.58,673.26 1070.01,675.08 1071.45,677 1072.89,679.02 1074.33,681.12 1075.76,683.29 1077.2,685.52 1078.64,687.79 1080.07,690.09 1081.51,692.41 1082.95,694.76 1084.38,697.21 1085.82,699.74 1087.26,702.36 1088.7,705.05 1090.13,707.78 1091.57,710.56 1093.01,713.36 1094.44,716.17 1095.88,718.99 1097.32,721.79 1098.76,724.57 1100.19,727.4 1101.63,730.27 1103.07,733.17 1104.5,736.08 1105.94,739 1107.38,741.9 1108.82,744.78 1110.25,747.62 1111.69,750.41 1113.13,753.13 1114.56,755.81 1116,758.45 1117.44,761.07 1118.88,763.66 1120.31,766.25 1121.75,768.84 1123.19,771.44 1124.62,774.05 1126.06,776.7 1127.5,779.37 1128.93,782.06 1130.37,784.77 1131.81,787.5 1133.25,790.22 1134.68,792.95 1136.12,795.68 1137.56,798.4 1138.99,801.11 1140.43,803.8 1141.87,806.47 1143.31,809.11 1144.74,811.72 1146.18,814.31 1147.62,816.87 1149.05,819.41 1150.49,821.94 1151.93,824.45 1153.37,826.95 1154.8,829.45 1156.24,831.94 1157.68,834.42 1159.11,836.91 1160.55,839.41 1161.99,841.91 1163.43,844.42 1164.86,846.95 1166.3,849.49 1167.74,852.04 1169.17,854.61 1170.61,857.18 1172.05,859.76 1173.48,862.33 1174.92,864.91 1176.36,867.48 1177.8,870.04 1179.23,872.59 1180.67,875.14 1182.11,877.66 1183.54,880.17 1184.98,882.65 1186.42,885.11 1187.86,887.55 1189.29,889.95 1190.73,892.33 1192.17,894.66 1193.6,896.96 1195.04,899.21 1196.48,901.41 1197.92,903.58 1199.35,905.73 1200.79,907.85 1202.23,909.95 1203.66,912.06 1205.1,914.16 1206.54,916.28 1207.97,918.41 1209.41,920.58 1210.85,922.78 1212.29,925 1213.72,927.26 1215.16,929.53 1216.6,931.81 1218.03,934.1 1219.47,936.39 1220.91,938.68 1222.35,940.96 1223.78,943.23 1225.22,945.47 1226.66,947.69 1228.09,949.88 1229.53,952.04 1230.97,954.15 1232.41,956.21 1233.84,958.22 1235.28,960.18 1236.72,962.06 1238.15,963.88 1239.59,965.63 1241.03,967.34 1242.47,969.02 1243.9,970.66 1245.34,972.28 1246.78,973.86 1248.21,975.42 1249.65,976.95 1251.09,978.45 1252.52,979.94 1253.96,981.4 1255.4,982.84 1256.84,984.27 1258.27,985.68 1259.71,987.07 1261.15,988.45 1262.58,989.81 1264.02,991.17 1265.46,992.52 1266.9,993.86 1268.33,995.19 1269.77,996.52 1271.21,997.84 1272.64,999.17 1274.08,1000.49 1275.52,1001.82 1276.96,1003.15 1278.39,1004.48 1279.83,1005.82 1281.27,1007.17 1282.7,1008.51 1284.14,1009.86 1285.58,1011.21 1287.02,1012.55 1288.45,1013.9 1289.89,1015.24 1291.33,1016.58 1292.76,1017.91 1294.2,1019.24 1295.64,1020.56 1297.07,1021.88 1298.51,1023.18 1299.95,1024.48 1301.39,1025.77 1302.82,1027.04 1304.26,1028.3 1305.7,1029.55 1307.13,1030.78 1308.57,1032 1310.01,1033.21 1311.45,1034.39 1312.88,1035.56 1314.32,1036.71 1315.76,1037.83 1317.19,1038.94 1318.63,1040.02 1320.07,1041.09 1321.51,1042.13 1322.94,1043.16 1324.38,1044.17 1325.82,1045.18 1327.25,1046.18 1328.69,1047.17 1330.13,1048.14 1331.56,1049.11 1333,1050.06 1334.44,1051.01 1335.88,1051.94 1337.31,1052.86 1338.75,1053.78 1340.19,1054.68 1341.62,1055.58 1343.06,1056.46 1344.5,1057.33 1345.94,1058.2 1347.37,1059.05 1348.81,1059.9 1350.25,1060.73 1351.68,1061.56 1353.12,1062.37 1354.56,1063.18 1356,1063.98 1357.43,1064.77 1358.87,1065.54 1360.31,1066.31 1361.74,1067.08 1363.18,1067.83 1364.62,1068.57 1366.06,1069.31 1367.49,1070.04 1368.93,1070.77 1370.37,1071.49 1371.8,1072.2 1373.24,1072.91 1374.68,1073.61 1376.11,1074.31 1377.55,1075 1378.99,1075.69 1380.43,1076.37 1381.86,1077.05 1383.3,1077.72 1384.74,1078.38 1386.17,1079.04 1387.61,1079.7 1389.05,1080.35 1390.49,1080.99 1391.92,1081.63 1393.36,1082.26 1394.8,1082.89 1396.23,1083.51 1397.67,1084.13 1399.11,1084.74 1400.55,1085.35 1401.98,1085.95 1403.42,1086.55 1404.86,1087.14 1406.29,1087.73 1407.73,1088.31 1409.17,1088.89 1410.61,1089.46 1412.04,1090.03 1413.48,1090.59 1414.92,1091.15 1416.35,1091.7 1417.79,1092.25 1419.23,1092.79 1420.66,1093.33 1422.1,1093.87 1423.54,1094.39 1424.98,1094.92 1426.41,1095.44 1427.85,1095.95 1429.29,1096.47 1430.72,1096.97 1432.16,1097.48 1433.6,1097.98 1435.04,1098.47 1436.47,1098.97 1437.91,1099.45 1439.35,1099.94 1440.78,1100.41 1442.22,1100.89 1443.66,1101.36 1445.1,1101.83 1446.53,1102.29 1447.97,1102.74 1449.41,1103.2 1450.84,1103.65 1452.28,1104.09 1453.72,1104.53 1455.15,1104.96 1456.59,1105.39 1458.03,1105.82 1459.47,1106.24 1460.9,1106.65 1462.34,1107.06 1463.78,1107.47 1465.21,1107.87 1466.65,1108.27 1468.09,1108.66 1469.53,1109.04 1470.96,1109.42 1472.4,1109.8" fill="none" stroke="#000" stroke-width="3.7" stroke-dasharray="15 11"/>
<g fill="none" stroke-width="2.4" stroke-linejoin="round" stroke-linecap="butt">
<polyline points="181.9,1095.8 268.9,1069.1 319.8,1054.3 355.9,1043.6 383.9,1036.4 406.8,1029.3 426.1,1023.4 442.9,1020 457.7,1014.7 470.9,1011.9 482.9,1009.3 493.8,1006.2 503.8,1003.2 513.1,999.9 521.8,997.7 529.9,994.1 537.5,992.4 544.7,990 551.4,987.9 557.9,987.4 564,984.1 569.8,982 575.4,980.3 580.8,980.7 585.9,978 590.8,977 595.6,975.8 600.1,974.3 604.5,974.5 608.8,973.3 612.9,970.8 616.9,969.8 620.7,968.3 624.5,968.2 628.1,969.6 631.7,965.9 635.1,966.8 638.4,963.4 641.7,964.3 644.9,964.6 648,962.9 651,962.4 654,963.6 656.8,958.7 659.7,960.7 662.4,961.1 665.1,960.6 667.8,957.1 670.4,955.6 672.9,956.6 675.4,955 677.8,954.3 680.2,953.4 682.5,951.4 684.9,955.8 687.1,956.1 689.3,956.1 691.5,954.1 693.7,952.1 695.8,951.4 697.8,952.9 699.9,951.4 701.9,953.7 703.9,950.6 705.8,951.1 707.7,952.9 709.6,948.4 711.5,946.3 713.3,946.5 715.1,949.8 716.9,948.5 718.7,944.4 720.4,946.9 722.1,944.9 723.8,947.4 725.4,944.6 727.1,943.6 728.7,943.1 730.3,944.2 731.9,946.7 733.4,941.6 735,945 736.5,940.7 738,942.3 739.5,939.9 741,942.7 742.4,938.8 743.8,944.6 745.3,942.8 746.7,939.7 748.1,940.4 749.4,937.2" stroke="#77AC30"/>
<polyline points="218,1014.1 305,1006.3 355.9,998.1 392,991.5 420,985.2 442.9,980.2 462.2,975.3 479,971.8 493.8,968.8 507,964.5 519,962 529.9,958.6 539.9,955.2 549.2,951.6 557.9,949.9 566,946.3 573.6,944.2 580.8,943.2 587.6,942.6 594,940.8 600.1,937.8 606,937.9 611.5,934.7 616.9,932.9 622,932 626.9,930.4 631.7,929.2 636.2,928.2 640.6,927 644.9,924.5 649,923.1 653,922.4 656.8,922.4 660.6,921.3 664.2,920.1 667.8,917.8 671.2,919 674.6,914.3 677.8,914.1 681,914.4 684.1,911.9 687.1,909.3 690.1,908.9 693,908.6 695.8,908.8 698.5,906 701.2,905.4 703.9,904.8 706.5,905.7 709,904.5 711.5,902 713.9,901.3 716.3,899.9 718.7,898.4 721,897.9 723.2,897 725.4,900.7 727.6,896.1 729.8,895.2 731.9,893.6 734,894.7 736,894.5 738,889.9 740,889.2 741.9,888.7 743.8,891.6 745.7,888.2 747.6,886.6 749.4,887.9" stroke="#A2142F"/>
<polyline points="181.9,940.3 268.9,933.7 319.8,925.6 355.9,923.1 383.9,914.1 406.8,909.9 426.1,911.1 442.9,915.4 457.7,915 470.9,911.3 482.9,907.8 493.8,902.5 503.8,897.3 513.1,890.3 521.8,886.2 529.9,884.9 537.5,888.9 544.7,887.4 551.4,885.5 557.9,884.1 564,884.4 569.8,882.4 575.4,882.2 580.8,880 585.9,880.6 590.8,879.8 595.6,878 600.1,876.3 604.5,872 608.8,873.1 612.9,870.5 616.9,870.7 620.7,874.6 624.5,876.7 628.1,875.9 631.7,876.4 635.1,876.1 638.4,874.3 641.7,873.4 644.9,873.5 648,873.1 651,872.7 654,874.3 656.8,874.8 659.7,868.7 662.4,870.7 665.1,868.6 667.8,867.9 670.4,868.7 672.9,868.2 675.4,865.1 677.8,866.9 680.2,866.2 682.5,863.4 684.9,865.6 687.1,864.3 689.3,863 691.5,862.7 693.7,863.8 695.8,862.5 697.8,865.8 699.9,862.3 701.9,860.5 703.9,862.5 705.8,858.6 707.7,858.8 709.6,857.8 711.5,858.7 713.3,857.9 715.1,861.8 716.9,857.4 718.7,858 720.4,859.1 722.1,860.9 723.8,855.8 725.4,854.9 727.1,858.4 728.7,855 730.3,854.3 731.9,853.4 733.4,854.6 735,852.8 736.5,846.4 738,853 739.5,853.2 741,852.1 742.4,849.6 743.8,852.2 745.3,846.4 746.7,854.6 748.1,850 749.4,849.7" stroke="#7E2F8E"/>
<polyline points="218,1003.3 305,1000.2 355.9,999.5 392,997.5 420,997 442.9,997 462.2,997 479,995.1 493.8,997.3 507,993.9 519,996.9 529.9,994.2 539.9,995.6 549.2,993.1 557.9,990.9 566,991.7 573.6,992.5 580.8,992.5 587.6,991.5 594,994.7 600.1,991.7 606,989.7 611.5,990.4 616.9,992.6 622,988.7 626.9,990.1 631.7,990.5 636.2,988.3 640.6,989.7 644.9,988.6 649,983.9 653,991.2 656.8,984.7 660.6,983.4 664.2,987.1 667.8,986 671.2,988.3 674.6,985.1 677.8,988.9 681,992.1 684.1,979.4 687.1,984.5 690.1,987.6 693,986.4 695.8,987.7 698.5,984.9 701.2,983.1 703.9,983.6 706.5,981.7 709,983.9 711.5,983.6 713.9,982.8 716.3,988.2 718.7,985.1 721,987.9 723.2,984.2 725.4,978.6 727.6,988.3 729.8,982.6 731.9,982.4 734,987.6 736,989.7 738,986.9 740,990.6 741.9,974.1 743.8,985.1 745.7,984.2 747.6,990.6 749.4,986.4" stroke="#D95319"/>
<polyline points="181.9,1018.6 268.9,1016.5 319.8,1015.2 355.9,1014.4 383.9,1012.6 406.8,1012.3 426.1,1010.9 442.9,1010.2 457.7,1012.6 470.9,1011.4 482.9,1009.4 493.8,1008.6 503.8,1010 513.1,1009.9 521.8,1010.8 529.9,1012 537.5,1013.7 544.7,1011.8 551.4,1013.1 557.9,1012.8 564,1010.7 569.8,1006.2 575.4,1005.6 580.8,1011 585.9,1015.7 590.8,1014.3 595.6,1013.4 600.1,1010.1 604.5,1008.3 608.8,1009.8 612.9,1005.7 616.9,1009.9 620.7,1010.9 624.5,1006 628.1,1014.4 631.7,1006.8 635.1,1011.5 638.4,1018.6 641.7,1008.6 644.9,1009.7 648,1012.2 651,1005.6 654,1013.5 656.8,1010.4 659.7,1007.5 662.4,1007.5 665.1,1005.9 667.8,1006.3 670.4,1009.6 672.9,1007 675.4,1008.9 677.8,1009.3 680.2,1003.6 682.5,1010.5 684.9,1005.5 687.1,1011.9 689.3,1004.9 691.5,1005.3 693.7,1006.6 695.8,1008.4 697.8,1007.6 699.9,1009 701.9,1007.4 703.9,1005.4 705.8,1002.7 707.7,1006 709.6,1000.3 711.5,1007.7 713.3,999.2 715.1,1000.9 716.9,1007.6 718.7,998.2 720.4,1001.3 722.1,998.9 723.8,1004.8 725.4,1001.4 727.1,1006.6 728.7,1004.9 730.3,1004 731.9,1002.8 733.4,1003.2 735,1005.7 736.5,1001.7 738,1008 739.5,1008.3 741,1006 742.4,1005.9 743.8,1008.2 745.3,1006.5 746.7,1003.2 748.1,1011.8 749.4,1009.3" stroke="#4DBEEE"/>
<polyline points="181.9,1005.2 268.9,1003.5 319.8,1002.5 355.9,1002.2 383.9,1002.1 406.8,1002.2 426.1,1003.1 442.9,1002.9 457.7,1001.5 470.9,1001.7 482.9,1000.8 493.8,1000 503.8,1001.7 513.1,1000.3 521.8,1002.3 529.9,1002.5 537.5,1002.4 544.7,998.4 551.4,1000.7 557.9,997.3 564,996.5 569.8,999.7 575.4,1001.4 580.8,998.8 585.9,1003.1 590.8,1004.6 595.6,1004 600.1,998.9 604.5,1002.3 608.8,1000.4 612.9,1001.2 616.9,998.1 620.7,999.4 624.5,1007.2 628.1,1005.5 631.7,1003.9 635.1,997.5 638.4,999.9 641.7,1004.1 644.9,1000.3 648,997.8 651,996.9 654,1002.5 656.8,1002.4 659.7,1001.3 662.4,1000.5 665.1,1003.8 667.8,1001 670.4,998.7 672.9,1003.1 675.4,998.2 677.8,994.4 680.2,1001.4 682.5,999.1 684.9,1002.4 687.1,995.1 689.3,992.7 691.5,998.5 693.7,1001.4 695.8,996.6 697.8,1000.4 699.9,998.3 701.9,995.6 703.9,999.4 705.8,996 707.7,996.7 709.6,999.5 711.5,999.8 713.3,1000 715.1,997 716.9,995.1 718.7,996.9 720.4,994.4 722.1,996.3 723.8,991.4 725.4,993 727.1,995.9 728.7,992.3 730.3,992.8 731.9,990.7 733.4,1001 735,992 736.5,998.3 738,993.6 739.5,992 741,989.5 742.4,992.9 743.8,995.1 745.3,991.8 746.7,991.5 748.1,996.7 749.4,1005.3" stroke="#4DBEEE"/>
<polyline points="181.9,980.5 268.9,973.2 319.8,968.8 355.9,965.6 383.9,962.6 406.8,961 426.1,959.3 442.9,957.8 457.7,956.2 470.9,955.1 482.9,953.6 493.8,952.1 503.8,951.2 513.1,950.3 521.8,948.8 529.9,949.4 537.5,947.5 544.7,948.4 551.4,947.3 557.9,946.1 564,945.9 569.8,944.1 575.4,944 580.8,945.7 585.9,943.4 590.8,942.8 595.6,942.1 600.1,942.9 604.5,941.6 608.8,942.9 612.9,940.2 616.9,941.7 620.7,939 624.5,939.2 628.1,938.2 631.7,939 635.1,939.4 638.4,936.3 641.7,936.5 644.9,936.4 648,938.3 651,936.5 654,935 656.8,935.5 659.7,937.2 662.4,935 665.1,932.6 667.8,935.2 670.4,932.3 672.9,934.7 675.4,933.3 677.8,934.5 680.2,931.8 682.5,932.6 684.9,932.7 687.1,935.1 689.3,930.7 691.5,930.2 693.7,928.5 695.8,933.1 697.8,929.4 699.9,931 701.9,931.4 703.9,931.2 705.8,931.2 707.7,929.9 709.6,930.3 711.5,928.6 713.3,930.8 715.1,928.5 716.9,926.5 718.7,926.2 720.4,931.3 722.1,931.5 723.8,931.1 725.4,930.5 727.1,931.7 728.7,931.9 730.3,928.3 731.9,928.4 733.4,929.8 735,927.1 736.5,928.5 738,930.9 739.5,927.9 741,928.5 742.4,928.1 743.8,931.4 745.3,930 746.7,929.1 748.1,928.3 749.4,927" stroke="#4DBEEE"/>
<polyline points="181.9,1044.5 268.9,1037.4 319.8,1033.6 355.9,1030.8 383.9,1030.2 406.8,1028.5 426.1,1026.4 442.9,1025 457.7,1023.4 470.9,1026.3 482.9,1020.4 493.8,1019.9 503.8,1022 513.1,1015.9 521.8,1021.1 529.9,1018.3 537.5,1019.4 544.7,1020.1 551.4,1018.4 557.9,1019.8 564,1017.3 569.8,1014.4 575.4,1009.7 580.8,1017.6 585.9,1020.3 590.8,1015.3 595.6,1014.6 600.1,1010.4 604.5,1021.5 608.8,1016.1 612.9,1016.6 616.9,1013.1 620.7,1018.4 624.5,1013.4 628.1,1016.7 631.7,1012.9 635.1,1010.6 638.4,1018.9 641.7,1010.7 644.9,1017 648,1017.2 651,1012.2 654,1011 656.8,1013.1 659.7,1011.5 662.4,1014.1 665.1,1011.6 667.8,1016.8 670.4,1014.2 672.9,1011.9 675.4,1007.6 677.8,1012.5 680.2,1010.9 682.5,1012.1 684.9,1013 687.1,1013.9 689.3,1011.5 691.5,1010.7 693.7,1008.8 695.8,1011.3 697.8,1004.4 699.9,1016.7 701.9,1010.2 703.9,1005.3 705.8,1002.7 707.7,1010.3 709.6,1011.2 711.5,1014.9 713.3,1010 715.1,1017.5 716.9,1010.9 718.7,1019.5 720.4,1008.9 722.1,1015.2 723.8,1014.8 725.4,1012.8 727.1,1012.8 728.7,1009.4 730.3,1004.3 731.9,1010.5 733.4,1013.3 735,1002.6 736.5,1006.6 738,1006.4 739.5,1009.4 741,1015.9 742.4,1008.1 743.8,1014.3 745.3,1013.2 746.7,1008.5 748.1,1014 749.4,1004" stroke="#0072BD"/>
<polyline points="218,975.7 305,969.3 355.9,961.8 392,955 420,949 442.9,943.9 462.2,939.4 479,934.4 493.8,929.8 507,926.8 519,923.4 529.9,920.5 539.9,917.6 549.2,914 557.9,911.7 566,910.4 573.6,905.7 580.8,903.9 587.6,901.6 594,898.2 600.1,897 606,894.8 611.5,893 616.9,890.3 622,889 626.9,888.4 631.7,883.2 636.2,883.7 640.6,883.1 644.9,880.7 649,879.6 653,877.2 656.8,876 660.6,876.4 664.2,873.5 667.8,873.3 671.2,870.1 674.6,869.9 677.8,866.6 681,868 684.1,865.6 687.1,864.7 690.1,863.4 693,865.7 695.8,864.3 698.5,861.9 701.2,859.5 703.9,859.8 706.5,856.3 709,857.9 711.5,855.9 713.9,855.9 716.3,856.2 718.7,853.3 721,854.1 723.2,851.7 725.4,848.3 727.6,850.5 729.8,850.4 731.9,848.4 734,846.3 736,845.1 738,845.1 740,842.6 741.9,838.3 743.8,840.2 745.7,836.6 747.6,840.9 749.4,840.9" stroke="#0072BD"/>
<polyline points="181.9,1007.8 268.9,999.6 319.8,990.4 355.9,982.3 383.9,975.3 406.8,968.9 426.1,963.5 442.9,958.1 457.7,953.6 470.9,949.3 482.9,945.6 493.8,942.2 503.8,939.6 513.1,937.1 521.8,933.8 529.9,932 537.5,929.1 544.7,927.3 551.4,923.1 557.9,919.1 564,917.8 569.8,915.7 575.4,914.8 580.8,910.3 585.9,910.8 590.8,908.7 595.6,904.8 600.1,905 604.5,906 608.8,903.2 612.9,901 616.9,898.2 620.7,895.6 624.5,893.8 628.1,892.9 631.7,890.7 635.1,889.5 638.4,890.1 641.7,888 644.9,886.4 648,885.1 651,884.1 654,880.9 656.8,882.2 659.7,881.8 662.4,878.5 665.1,876.7 667.8,874.9 670.4,875.5 672.9,873.6 675.4,869.4 677.8,873 680.2,868.6 682.5,865.5 684.9,866.5 687.1,865.1 689.3,864.2 691.5,863.4 693.7,862.9 695.8,862.8 697.8,862.7 699.9,862.8 701.9,860.9 703.9,857.6 705.8,858.2 707.7,858.3 709.6,852 711.5,855.3 713.3,854.4 715.1,850.2 716.9,852 718.7,851.2 720.4,851.1 722.1,852.6 723.8,850 725.4,845.8 727.1,844.5 728.7,844.3 730.3,847 731.9,845.6 733.4,846.6 735,846.3 736.5,843.2 738,844.6 739.5,843.9 741,842.7 742.4,840.2 743.8,839.4 745.3,838.1 746.7,836.1 748.1,839.1 749.4,838" stroke="#EDB120"/>
<polyline points="181.9,904.5 268.9,889 319.8,889.3 355.9,881.5 383.9,874.4 406.8,872.5 426.1,870.3 442.9,867.5 457.7,864.9 470.9,860.7 482.9,864.2 493.8,857.2 503.8,853.9 513.1,858.4 521.8,853.9 529.9,849.8 537.5,850.7 544.7,852.4 551.4,851.4 557.9,850 564,849.6 569.8,854.6 575.4,854.4 580.8,854.7 585.9,856.2 590.8,856.4 595.6,858.3 600.1,856.4 604.5,853.8 608.8,849.9 612.9,851.1 616.9,849.1 620.7,844.2 624.5,841.2 628.1,841.1 631.7,842.8 635.1,848 638.4,848.4 641.7,846.1 644.9,847.9 648,845.8 651,845.3 654,845.5 656.8,843.9 659.7,847.6 662.4,847.9 665.1,850.1 667.8,850.8 670.4,851.3 672.9,854 675.4,853.5 677.8,854.8 680.2,854.5 682.5,855.3 684.9,853.8 687.1,853 689.3,853.8 691.5,851.3 693.7,850 695.8,849.2 697.8,850.8 699.9,848.5 701.9,847.3 703.9,845.2 705.8,845.9 707.7,847.1 709.6,847 711.5,847.9 713.3,844.4 715.1,845.5 716.9,846.1 718.7,840.9 720.4,846.7 722.1,841.7 723.8,841.3 725.4,843.9 727.1,842.9 728.7,843.8 730.3,842.7 731.9,842 733.4,841 735,839.8 736.5,841.5 738,837.8 739.5,840 741,841.2 742.4,838.1 743.8,841 745.3,841 746.7,839.5 748.1,839.1 749.4,839.9" stroke="#0072BD"/>
<polyline points="181.9,987.9 268.9,976.8 319.8,972 355.9,967 383.9,962.6 406.8,958.5 426.1,954.7 442.9,952 457.7,948.5 470.9,944.9 482.9,943.1 493.8,940.1 503.8,937.4 513.1,936.1 521.8,934.2 529.9,930.2 537.5,930.4 544.7,928.3 551.4,926.5 557.9,925.4 564,923.6 569.8,922.4 575.4,920.1 580.8,919.5 585.9,918.1 590.8,915.2 595.6,913.9 600.1,913.5 604.5,910.2 608.8,907.1 612.9,908.6 616.9,907.5 620.7,906 624.5,904 628.1,903.8 631.7,902.9 635.1,900.1 638.4,898.8 641.7,900.7 644.9,898.1 648,896.5 651,896.4 654,894.7 656.8,895.5 659.7,893.7 662.4,896 665.1,892 667.8,892.7 670.4,893.7 672.9,892.7 675.4,891.5 677.8,890.3 680.2,891 682.5,891.3 684.9,888.5 687.1,884.6 689.3,883.9 691.5,885.6 693.7,884.6 695.8,886.1 697.8,883.9 699.9,882.4 701.9,881.2 703.9,881.1 705.8,883.9 707.7,883.4 709.6,881 711.5,878.9 713.3,879.2 715.1,878.5 716.9,878.1 718.7,876.5 720.4,877.3 722.1,876.3 723.8,873.3 725.4,869.7 727.1,871.7 728.7,871.1 730.3,871.9 731.9,869.7 733.4,870.1 735,870.6 736.5,867 738,866.3 739.5,868.1 741,865.3 742.4,866.4 743.8,867.7 745.3,861.7 746.7,864.3 748.1,864.8 749.4,865.6" stroke="#A2142F"/>
<polyline points="181.9,914 268.9,891.8 319.8,881.2 355.9,875.3 383.9,873.4 406.8,871.9 426.1,870.5 442.9,863.4 457.7,855.5 470.9,850.4 482.9,851.7 493.8,847.9 503.8,849.5 513.1,849.2 521.8,840.6 529.9,838.6 537.5,839.6 544.7,840.5 551.4,840.7 557.9,841.6 564,838.5 569.8,835.9 575.4,831.1 580.8,830 585.9,835.3 590.8,831.9 595.6,829.2 600.1,825 604.5,820 608.8,818.2 612.9,816.5 616.9,814.7 620.7,815 624.5,813 628.1,810 631.7,809 635.1,808.6 638.4,805.8 641.7,803.4 644.9,802.5 648,801.3 651,800.7 654,800.3 656.8,797.7 659.7,797.1 662.4,797.7 665.1,796.8 667.8,796.9 670.4,793.9 672.9,793.8 675.4,795 677.8,792.2 680.2,790.7 682.5,785.1 684.9,782 687.1,782.1 689.3,779 691.5,777.2 693.7,776.5 695.8,775.9 697.8,773.3 699.9,773.5 701.9,772.6 703.9,771.2 705.8,773.8 707.7,773.5 709.6,772.5 711.5,768.5 713.3,770 715.1,769.5 716.9,767.4 718.7,768.2 720.4,765.5 722.1,764.9 723.8,764.7 725.4,764.1 727.1,763.1 728.7,764.6 730.3,761.7 731.9,762 733.4,761.3 735,764.2 736.5,760.3 738,761.6 739.5,762.7 741,758.6 742.4,758.5 743.8,758.8 745.3,757.5 746.7,760.3 748.1,757.9 749.4,759.5" stroke="#77AC30"/>
<polyline points="131,1013.3 218,1004.3 268.9,998.9 305,994.3 333,988.8 355.9,984.9 375.2,980.4 392,976.8 406.8,973.9 420,969.8 432,966.7 442.9,963.7 452.9,962.2 462.2,958 470.9,957.1 479,955.5 486.6,952.7 493.8,950.8 500.6,951.1 507,948 513.1,947.1 519,944.6 524.5,945.9 529.9,943.5 535,942.7 539.9,939.8 544.7,940.1 549.2,938.8 553.6,937.5 557.9,935.9 562,937.2 566,932.9 569.8,933.9 573.6,935.9 577.2,934.1 580.8,933.6 584.2,931.5 587.6,930.2 590.8,932.4 594,929.7 597.1,929 600.1,928.1 603.1,931.1 606,927.1 608.8,930.7 611.5,927.6 614.2,926.4 616.9,928.1 619.5,928 622,925.4 624.5,926.5 626.9,926.4 629.3,925.7 631.7,922.8 634,926.9 636.2,923.6 638.4,926 640.6,922.9 642.8,922.5 644.9,923.5 647,923.1 649,923.2 651,922 653,920.4 654.9,923.9 656.8,919.4 658.7,922.4 660.6,922.7 662.4,920.1 664.2,920.8 666,919.7 667.8,921.5 669.5,921.9 671.2,920.2 672.9,921.2 674.6,918.3 676.2,916.1 677.8,918.6 679.4,918.1 681,919.3 682.5,922.8 684.1,914.4 685.6,916.8 687.1,915.2 688.6,917.1 690.1,915.9 691.5,916.4 693,915.6 694.4,916.7 695.8,918.3 697.2,918.5 698.5,917.9 699.9,916.4 701.2,914.3 702.6,917.4 703.9,914.7 705.2,917.3 706.5,916.7 707.7,917.7 709,915.2 710.2,914.5 711.5,914.8 712.7,914.8 713.9,916.4 715.1,918 716.3,914.9 717.5,918.6 718.7,916.9 719.8,918.1 721,915.4 722.1,918 723.2,915.4 724.3,917 725.4,915.4 726.5,915.8 727.6,914.5 728.7,916.1 729.8,919.2 730.8,917.4 731.9,919 732.9,917.8 734,917.9 735,916.9 736,919.8 737,912.3 738,915.1 739,919.2 740,912.2 741,914.2 741.9,918.5 742.9,918.9 743.8,915 744.8,918.9 745.7,913.9 746.7,917 747.6,913.2 748.5,918.1 749.4,918.4" stroke="#D95319"/>
<polyline points="181.9,1013.5 268.9,1007.4 319.8,1000 355.9,993.2 383.9,986.9 406.8,981.7 426.1,976.5 442.9,972.3 457.7,968.2 470.9,965.2 482.9,961 493.8,957.8 503.8,953.8 513.1,951.3 521.8,947.7 529.9,946.5 537.5,944.7 544.7,941.5 551.4,938.4 557.9,935.9 564,934.4 569.8,932.4 575.4,932.2 580.8,926.7 585.9,925.4 590.8,924.4 595.6,922.1 600.1,922 604.5,918.7 608.8,917.7 612.9,915.6 616.9,916.4 620.7,914.9 624.5,912.4 628.1,910.9 631.7,910.9 635.1,907.2 638.4,905.8 641.7,907.3 644.9,905.1 648,902.3 651,903.4 654,899.8 656.8,898.5 659.7,898.5 662.4,898.3 665.1,895 667.8,892.5 670.4,896.7 672.9,893.7 675.4,892 677.8,890.2 680.2,890.2 682.5,889.3 684.9,885.2 687.1,886.2 689.3,886.1 691.5,883.1 693.7,885.4 695.8,882.8 697.8,881.9 699.9,882.2 701.9,878.8 703.9,877.2 705.8,881.5 707.7,879 709.6,875.3 711.5,872.5 713.3,874.4 715.1,871.4 716.9,869.6 718.7,871.4 720.4,866.1 722.1,868.8 723.8,867.5 725.4,870.5 727.1,866.2 728.7,867.8 730.3,864.7 731.9,863.9 733.4,863.3 735,864.2 736.5,864.2 738,862 739.5,861.7 741,858.6 742.4,860 743.8,855.9 745.3,858.7 746.7,855.5 748.1,856.9 749.4,856" stroke="#7E2F8E"/>
<polyline points="181.9,976.8 268.9,969.2 319.8,961.8 355.9,955.9 383.9,951 406.8,946.7 426.1,942.8 442.9,939 457.7,936.6 470.9,933.9 482.9,931.2 493.8,928.5 503.8,925.8 513.1,923.6 521.8,921.8 529.9,919.4 537.5,917.8 544.7,916.1 551.4,916.4 557.9,912.9 564,911.9 569.8,909.5 575.4,908.1 580.8,908.6 585.9,905.9 590.8,904.5 595.6,903.8 600.1,903.9 604.5,902.7 608.8,900.1 612.9,899.8 616.9,899.2 620.7,898.3 624.5,896.3 628.1,897.4 631.7,894.5 635.1,890.8 638.4,894.9 641.7,892.7 644.9,890.2 648,889.9 651,891.6 654,888.4 656.8,888 659.7,886.9 662.4,890 665.1,886.9 667.8,888 670.4,887.5 672.9,884.7 675.4,882.9 677.8,882.1 680.2,880 682.5,881.8 684.9,882.1 687.1,882.7 689.3,876.5 691.5,877.2 693.7,877.6 695.8,880 697.8,876 699.9,876.5 701.9,874.8 703.9,873.8 705.8,874.6 707.7,873.4 709.6,874.8 711.5,870 713.3,871.1 715.1,870.5 716.9,870.2 718.7,871.1 720.4,871.1 722.1,867.1 723.8,865.9 725.4,865.8 727.1,867.1 728.7,863.2 730.3,869.4 731.9,862.5 733.4,864.7 735,863.3 736.5,864.7 738,861.1 739.5,859 741,861.4 742.4,858.3 743.8,857.4 745.3,861.7 746.7,860 748.1,858.6 749.4,860.3" stroke="#0072BD"/>
<polyline points="181.9,934 268.9,924.8 319.8,922.3 355.9,929.1 383.9,927 406.8,925.3 426.1,925.4 442.9,924.4 457.7,924 470.9,922.5 482.9,922.6 493.8,922.2 503.8,922.6 513.1,919 521.8,919.3 529.9,916.6 537.5,916 544.7,916 551.4,911.5 557.9,910 564,910.4 569.8,909.1 575.4,911.1 580.8,906.7 585.9,909.8 590.8,906.5 595.6,907.5 600.1,905.2 604.5,903.5 608.8,904.9 612.9,906.1 616.9,903.7 620.7,903 624.5,905.8 628.1,899.7 631.7,903.5 635.1,903.8 638.4,901.1 641.7,901.8 644.9,903.6 648,901.8 651,899.1 654,901.6 656.8,898.8 659.7,902.6 662.4,902.4 665.1,901.4 667.8,901.6 670.4,899.8 672.9,896.4 675.4,897.8 677.8,898.9 680.2,900.8 682.5,898.4 684.9,901.3 687.1,896.7 689.3,900.8 691.5,893.6 693.7,899.5 695.8,896.2 697.8,899.3 699.9,897.3 701.9,896.2 703.9,898.1 705.8,899.8 707.7,898.7 709.6,902 711.5,896.4 713.3,897.4 715.1,895.8 716.9,898.1 718.7,899.7 720.4,900.8 722.1,896.9 723.8,892.9 725.4,894.9 727.1,896.4 728.7,897 730.3,899 731.9,900.2 733.4,895.6 735,894.2 736.5,892.5 738,896.5 739.5,900.5 741,896.5 742.4,900.2 743.8,894.5 745.3,896.4 746.7,897.2 748.1,895.6 749.4,896.4" stroke="#D95319"/>
<polyline points="218,1019.3 305,1008.3 355.9,996 392,985.2 420,976 442.9,967.8 462.2,960 479,953.6 493.8,948.2 507,943.1 519,937.5 529.9,932.4 539.9,927.8 549.2,924.4 557.9,920.2 566,915.8 573.6,910.4 580.8,908.9 587.6,904.1 594,900.7 600.1,897.7 606,895.1 611.5,890.8 616.9,888.8 622,884 626.9,883.4 631.7,879.7 636.2,875.4 640.6,875.4 644.9,872.5 649,869.1 653,869.2 656.8,864 660.6,861.6 664.2,861 667.8,859 671.2,857 674.6,856.4 677.8,854 681,853.1 684.1,850.3 687.1,848.9 690.1,846.4 693,846.3 695.8,844.1 698.5,844.9 701.2,839.2 703.9,838.3 706.5,838.4 709,835.6 711.5,833.6 713.9,831.1 716.3,832.2 718.7,830.8 721,827.4 723.2,824.8 725.4,827.9 727.6,822.5 729.8,824.3 731.9,822.1 734,819.7 736,820 738,816.7 740,816.5 741.9,818 743.8,813.7 745.7,811.5 747.6,812.4 749.4,811.6" stroke="#4DBEEE"/>
<polyline points="218,1060.1 305,1053.7 355.9,1045.7 392,1038.1 420,1031.5 442.9,1025.4 462.2,1020.2 479,1013.8 493.8,1010.4 507,1005.4 519,1002.2 529.9,997.5 539.9,993.6 549.2,990.7 557.9,985.5 566,985 573.6,981.5 580.8,979.3 587.6,974.9 594,973.2 600.1,973.3 606,968 611.5,965.7 616.9,965 622,959.9 626.9,958.7 631.7,959.1 636.2,956 640.6,954.3 644.9,952.3 649,948.2 653,948.7 656.8,943.7 660.6,943 664.2,941.5 667.8,941.5 671.2,938.1 674.6,937.7 677.8,936.7 681,930.5 684.1,929.6 687.1,931.6 690.1,930.1 693,926 695.8,926.4 698.5,926.1 701.2,923.4 703.9,923 706.5,920.7 709,920.5 711.5,918.9 713.9,917.6 716.3,919.4 718.7,918.1 721,918.9 723.2,913 725.4,912.7 727.6,911.1 729.8,913.1 731.9,909.5 734,908.7 736,908.4 738,905.3 740,904.8 741.9,905.1 743.8,907.3 745.7,906.8 747.6,903.3 749.4,900.9" stroke="#7E2F8E"/>
<polyline points="181.9,1057.2 268.9,1048.4 319.8,1040.2 355.9,1033.5 383.9,1027.4 406.8,1022.4 426.1,1018 442.9,1013.9 457.7,1012.1 470.9,1008 482.9,1004.9 493.8,1002.7 503.8,1000 513.1,997.2 521.8,995.3 529.9,992.4 537.5,990.9 544.7,990.3 551.4,986.4 557.9,987.5 564,984 569.8,982.5 575.4,981.5 580.8,979.3 585.9,976.6 590.8,976.1 595.6,975.5 600.1,973.1 604.5,971.9 608.8,971.3 612.9,970 616.9,965.4 620.7,967.6 624.5,966.2 628.1,962.3 631.7,962.7 635.1,963.3 638.4,961.5 641.7,959.6 644.9,957.3 648,959.8 651,960 654,956 656.8,959.5 659.7,955.7 662.4,955.4 665.1,952.1 667.8,954 670.4,950.8 672.9,949.1 675.4,951.6 677.8,947.2 680.2,948.4 682.5,946.6 684.9,948.2 687.1,946.3 689.3,943.2 691.5,944 693.7,941.6 695.8,942.3 697.8,942.8 699.9,943.7 701.9,939.8 703.9,942.4 705.8,936.8 707.7,939.6 709.6,938.8 711.5,938.5 713.3,936.9 715.1,934.6 716.9,935.5 718.7,938.1 720.4,933.3 722.1,932.7 723.8,935.6 725.4,931.1 727.1,931.3 728.7,931.1 730.3,929.6 731.9,932.2 733.4,928.8 735,929.2 736.5,928.6 738,930.5 739.5,923.7 741,924.5 742.4,926.5 743.8,926.3 745.3,928.5 746.7,923.8 748.1,923.6 749.4,924" stroke="#7E2F8E"/>
<polyline points="218,987.6 305,981.4 355.9,972.7 392,964.5 420,957.6 442.9,951 462.2,944.8 479,938.1 493.8,933.7 507,927.7 519,921.7 529.9,918.9 539.9,915.3 549.2,911 557.9,908.5 566,903.6 573.6,900.7 580.8,898.3 587.6,891.9 594,888 600.1,886.1 606,885.3 611.5,881.4 616.9,879.4 622,878.4 626.9,875.2 631.7,873.8 636.2,869.9 640.6,869.8 644.9,867.4 649,864.4 653,861.7 656.8,860.4 660.6,859.3 664.2,856.5 667.8,856.1 671.2,851.1 674.6,850.4 677.8,852.9 681,847.1 684.1,847.4 687.1,843.8 690.1,844.2 693,839.8 695.8,837.3 698.5,837.2 701.2,836.6 703.9,838.1 706.5,833 709,831.2 711.5,830.5 713.9,827.6 716.3,824.8 718.7,829.4 721,820.9 723.2,821 725.4,820.5 727.6,819.4 729.8,816.5 731.9,821 734,819.3 736,817.6 738,817.1 740,812.7 741.9,811.9 743.8,811.9 745.7,808.9 747.6,807.6 749.4,805.8" stroke="#EDB120"/>
<polyline points="181.9,1065.2 268.9,1056.7 319.8,1048.6 355.9,1042.2 383.9,1036.4 406.8,1031.3 426.1,1027.2 442.9,1023.4 457.7,1019.9 470.9,1017.5 482.9,1013.5 493.8,1011.5 503.8,1008.2 513.1,1006 521.8,1003.2 529.9,1001.9 537.5,1000.3 544.7,996.7 551.4,995.1 557.9,994.3 564,991.8 569.8,989.5 575.4,990 580.8,989.1 585.9,985.8 590.8,986.6 595.6,986.1 600.1,981.7 604.5,980.9 608.8,980.1 612.9,979.4 616.9,978.3 620.7,977.8 624.5,976.1 628.1,975.2 631.7,973.2 635.1,971.8 638.4,970.1 641.7,971.9 644.9,967.4 648,968.9 651,965.1 654,967 656.8,964.2 659.7,963 662.4,960.7 665.1,961 667.8,959 670.4,959.1 672.9,957.5 675.4,957.4 677.8,959.9 680.2,957.1 682.5,958.9 684.9,957.4 687.1,956.5 689.3,954.8 691.5,956.2 693.7,957.1 695.8,955.6 697.8,951.4 699.9,952.4 701.9,948.8 703.9,949.7 705.8,950.3 707.7,949.7 709.6,948.8 711.5,949.6 713.3,950.8 715.1,948.4 716.9,945.9 718.7,945.4 720.4,946.8 722.1,946.1 723.8,941.6 725.4,941.8 727.1,942.7 728.7,941.6 730.3,942.4 731.9,943.9 733.4,943.1 735,941.5 736.5,943.3 738,939.9 739.5,942 741,940.8 742.4,942 743.8,940.3 745.3,937.8 746.7,938.9 748.1,939.3 749.4,940.4" stroke="#D95319"/>
<polyline points="181.9,979.3 268.9,973 319.8,966.6 355.9,961.6 383.9,956.8 406.8,953.4 426.1,950.2 442.9,947.9 457.7,945 470.9,941.8 482.9,940.3 493.8,937.3 503.8,936.2 513.1,933.8 521.8,931.9 529.9,931.1 537.5,928 544.7,927 551.4,924.5 557.9,922.8 564,923.4 569.8,921.4 575.4,920.4 580.8,917.4 585.9,915.6 590.8,918.1 595.6,914.9 600.1,913.7 604.5,913.6 608.8,911.9 612.9,908.9 616.9,908.9 620.7,908.4 624.5,908.5 628.1,908 631.7,905.6 635.1,904.4 638.4,902.8 641.7,903 644.9,900.3 648,901.1 651,901.5 654,898.8 656.8,900.4 659.7,897.7 662.4,899.2 665.1,899.1 667.8,896.6 670.4,897.3 672.9,896.4 675.4,895.4 677.8,893.5 680.2,892.8 682.5,890.8 684.9,892.4 687.1,891.6 689.3,891.8 691.5,894.2 693.7,887.3 695.8,889.1 697.8,889.1 699.9,886.5 701.9,888.9 703.9,887 705.8,891.1 707.7,885.8 709.6,884.6 711.5,884.9 713.3,884.4 715.1,883.9 716.9,885.5 718.7,885.9 720.4,884.9 722.1,883.6 723.8,883.9 725.4,881.5 727.1,881.1 728.7,883.5 730.3,882 731.9,881.7 733.4,881 735,882.7 736.5,879.4 738,882.6 739.5,878.5 741,881.8 742.4,880.6 743.8,880.2 745.3,878 746.7,878.7 748.1,879.7 749.4,879.8" stroke="#4DBEEE"/>
<polyline points="181.9,1054.7 268.9,1048.9 319.8,1042 355.9,1036.3 383.9,1030.7 406.8,1025.8 426.1,1021.7 442.9,1017.9 457.7,1014.9 470.9,1010.7 482.9,1007.8 493.8,1003.8 503.8,1000.9 513.1,999 521.8,995.6 529.9,993.3 537.5,990.1 544.7,989.9 551.4,984.7 557.9,983.8 564,981.7 569.8,980.6 575.4,979 580.8,977.6 585.9,975.9 590.8,974.2 595.6,974.2 600.1,972.7 604.5,969.7 608.8,969.1 612.9,967.8 616.9,967.4 620.7,967.2 624.5,963.1 628.1,963.4 631.7,961.8 635.1,961.6 638.4,960 641.7,959.5 644.9,959.4 648,958.9 651,960.4 654,956.5 656.8,957.6 659.7,955.7 662.4,951.2 665.1,950.4 667.8,952.5 670.4,948.2 672.9,948.6 675.4,948.4 677.8,946.7 680.2,943.1 682.5,945.2 684.9,943.3 687.1,942.4 689.3,939.7 691.5,939.5 693.7,940.7 695.8,938 697.8,939.3 699.9,940.5 701.9,939.1 703.9,935.1 705.8,933.5 707.7,937.2 709.6,931.4 711.5,933.9 713.3,929.9 715.1,932.3 716.9,925.4 718.7,928.4 720.4,927.4 722.1,925.3 723.8,929.1 725.4,925.4 727.1,924.3 728.7,926.3 730.3,925.7 731.9,920.9 733.4,925.3 735,923.1 736.5,920.7 738,922.2 739.5,923 741,921.4 742.4,919.5 743.8,919.6 745.3,919.7 746.7,919.7 748.1,922 749.4,917.6" stroke="#77AC30"/>
<polyline points="181.9,1010 268.9,1002.3 319.8,995 355.9,989 383.9,983.7 406.8,979.2 426.1,975.6 442.9,971.3 457.7,967.8 470.9,966 482.9,962.8 493.8,959.8 503.8,956.6 513.1,955.8 521.8,951.8 529.9,950.3 537.5,948.7 544.7,946.5 551.4,945.1 557.9,943.1 564,942.3 569.8,941.3 575.4,940 580.8,936.6 585.9,937.3 590.8,934.3 595.6,932.3 600.1,931.2 604.5,930.8 608.8,929.2 612.9,928.8 616.9,926.3 620.7,925.3 624.5,923.9 628.1,924.6 631.7,922.8 635.1,922.6 638.4,920.6 641.7,918.7 644.9,920.1 648,919.1 651,916.9 654,915.7 656.8,915.8 659.7,914.1 662.4,913.2 665.1,912.8 667.8,912.9 670.4,915.2 672.9,908.4 675.4,909.8 677.8,908.6 680.2,907.1 682.5,908.6 684.9,909.3 687.1,910.4 689.3,908.4 691.5,907.1 693.7,906.8 695.8,906 697.8,905.1 699.9,902.5 701.9,905.9 703.9,904.4 705.8,902.3 707.7,901.5 709.6,901.2 711.5,904.6 713.3,899 715.1,900.4 716.9,897.3 718.7,899.3 720.4,898.9 722.1,898.8 723.8,899.9 725.4,901.7 727.1,895.3 728.7,897.1 730.3,894.5 731.9,895.6 733.4,894.1 735,894 736.5,891.8 738,890.2 739.5,891.6 741,891.4 742.4,891.9 743.8,890.2 745.3,889.4 746.7,891.7 748.1,888.9 749.4,889.8" stroke="#0072BD"/>
<polyline points="131,1060 218,1041.2 268.9,1031.6 305,1024 333,1017.7 355.9,1011.2 375.2,1005.8 392,1002.4 406.8,998.5 420,996.1 432,991.7 442.9,988.5 452.9,986.2 462.2,984.4 470.9,981.6 479,980.1 486.6,979.4 493.8,976.6 500.6,974.6 507,973.8 513.1,972.5 519,970.9 524.5,967.2 529.9,967 535,966.6 539.9,964.9 544.7,963.1 549.2,963.8 553.6,959.7 557.9,959 562,960.7 566,955.3 569.8,956.9 573.6,958.7 577.2,955.8 580.8,956.4 584.2,952.2 587.6,952.7 590.8,956.3 594,951 597.1,951.9 600.1,949.2 603.1,951.3 606,949.4 608.8,949.1 611.5,946.9 614.2,948.4 616.9,948.6 619.5,947.8 622,948.2 624.5,944 626.9,943.5 629.3,945.4 631.7,945.5 634,943.9 636.2,944.7 638.4,941.9 640.6,942.9 642.8,943 644.9,940.9 647,941 649,940.9 651,941 653,937.2 654.9,940.9 656.8,940.9 658.7,940.5 660.6,942.9 662.4,937.8 664.2,942 666,936.4 667.8,938.8 669.5,939.6 671.2,934.2 672.9,937.9 674.6,938.1 676.2,938.2 677.8,936.9 679.4,935.9 681,937.3 682.5,937.6 684.1,935.3 685.6,935.9 687.1,937.5 688.6,932.5 690.1,930.6 691.5,933 693,933.4 694.4,936.1 695.8,931.5 697.2,932.2 698.5,935.9 699.9,928.8 701.2,930.2 702.6,926.8 703.9,928.5 705.2,929.9 706.5,926.7 707.7,929.2 709,931.5 710.2,930.8 711.5,929.2 712.7,929.9 713.9,927.7 715.1,929.6 716.3,927.3 717.5,927.8 718.7,927.4 719.8,929.1 721,928.4 722.1,925.4 723.2,926.1 724.3,930.9 725.4,931.8 726.5,926.2 727.6,927.1 728.7,929.6 729.8,930 730.8,924.7 731.9,926.7 732.9,925.3 734,926 735,925.2 736,924.9 737,923.6 738,923.3 739,925.6 740,923 741,921.1 741.9,920.9 742.9,920.9 743.8,927 744.8,925.9 745.7,921.3 746.7,922.8 747.6,923.7 748.5,926.4 749.4,918.5" stroke="#77AC30"/>
<polyline points="218,1029.5 305,1021.6 355.9,1017.6 392,1013.9 420,1013.1 442.9,1011.5 462.2,1008.3 479,1006.1 493.8,1005.9 507,1004.7 519,1003.4 529.9,1006 539.9,1002.4 549.2,998 557.9,1004.6 566,1001.8 573.6,994.7 580.8,998.9 587.6,998.2 594,998 600.1,996.7 606,999.5 611.5,997.2 616.9,996.9 622,995.1 626.9,997 631.7,1000 636.2,992.6 640.6,993.6 644.9,994.2 649,990.8 653,991.4 656.8,991.3 660.6,989.4 664.2,989.9 667.8,992.2 671.2,990.4 674.6,992.1 677.8,991.3 681,989.9 684.1,989.1 687.1,994.9 690.1,994 693,982.1 695.8,988.7 698.5,992 701.2,986.7 703.9,987.7 706.5,987.9 709,989.7 711.5,992.7 713.9,994.5 716.3,989.2 718.7,994.3 721,988.8 723.2,991.5 725.4,987.2 727.6,990.4 729.8,988.2 731.9,984.5 734,985.1 736,989.3 738,989.9 740,986.4 741.9,982.6 743.8,985 745.7,986 747.6,987.3 749.4,977.4" stroke="#EDB120"/>
<polyline points="131,1035.7 218,1021.5 268.9,1014.3 305,1009.3 333,1005.3 355.9,1001.5 375.2,999 392,996.7 406.8,994.7 420,992.3 432,990.7 442.9,989.2 452.9,987.7 462.2,985.7 470.9,983.7 479,983.2 486.6,983 493.8,980.1 500.6,980.8 507,978.4 513.1,977.3 519,976.9 524.5,977 529.9,976.2 535,973.3 539.9,975.1 544.7,973 549.2,974.3 553.6,971.3 557.9,971.6 562,969.3 566,967 569.8,968.8 573.6,968.3 577.2,969.4 580.8,968.5 584.2,967.2 587.6,964.5 590.8,965.4 594,966.1 597.1,965.1 600.1,965.4 603.1,964.2 606,962.7 608.8,967.6 611.5,961.1 614.2,963.9 616.9,963.9 619.5,960.7 622,960.6 624.5,962.6 626.9,962 629.3,962.6 631.7,961.7 634,961 636.2,958.6 638.4,964.1 640.6,962.6 642.8,961.2 644.9,958.7 647,956.2 649,957.1 651,959.1 653,957.7 654.9,961 656.8,955.1 658.7,958.9 660.6,955.3 662.4,954.5 664.2,954.5 666,953.4 667.8,958.5 669.5,954.8 671.2,953.4 672.9,955.5 674.6,955.8 676.2,954.8 677.8,954.6 679.4,954.1 681,956.7 682.5,954.7 684.1,953.3 685.6,952.4 687.1,953.1 688.6,947.3 690.1,952.7 691.5,957.6 693,954.8 694.4,958.8 695.8,951.9 697.2,953.7 698.5,954.6 699.9,958.9 701.2,957 702.6,950.4 703.9,950.2 705.2,948.3 706.5,951.3 707.7,951.1 709,946.8 710.2,949 711.5,949.8 712.7,952.9 713.9,945.4 715.1,951.7 716.3,947.2 717.5,951.2 718.7,950.2 719.8,951.8 721,948.6 722.1,946.6 723.2,950.5 724.3,950.6 725.4,945.1 726.5,948.9 727.6,950.4 728.7,946.3 729.8,946.7 730.8,948.4 731.9,947.7 732.9,952.5 734,944.2 735,943.8 736,941.3 737,946 738,947.6 739,946.4 740,944.4 741,943.6 741.9,945.1 742.9,949.7 743.8,945.4 744.8,945.2 745.7,943.6 746.7,945.4 747.6,946.4 748.5,939.6 749.4,943.1" stroke="#4DBEEE"/>
<polyline points="218,984 305,974.9 355.9,967.1 392,960.8 420,955.9 442.9,951.6 462.2,948.2 479,945.1 493.8,942.2 507,939.4 519,936.1 529.9,933.7 539.9,930.1 549.2,929.3 557.9,927 566,925.6 573.6,923.8 580.8,921.7 587.6,921.6 594,919.8 600.1,919.6 606,918.3 611.5,914.3 616.9,913.7 622,914.1 626.9,912.7 631.7,910.9 636.2,910.3 640.6,909.5 644.9,908.5 649,908.6 653,907.4 656.8,904.6 660.6,904 664.2,900.9 667.8,901.3 671.2,899 674.6,900.3 677.8,901.3 681,899.9 684.1,896.7 687.1,897.8 690.1,895.5 693,894.8 695.8,896.5 698.5,890.4 701.2,896 703.9,891.4 706.5,891.8 709,889.2 711.5,889.9 713.9,887.9 716.3,887 718.7,887.6 721,887.5 723.2,886.2 725.4,887.4 727.6,881.2 729.8,883.6 731.9,883.3 734,887.3 736,884.7 738,883.8 740,882.1 741.9,886.6 743.8,886.1 745.7,883.9 747.6,880.9 749.4,882.3" stroke="#7E2F8E"/>
<polyline points="218,1035.2 305,1027.6 355.9,1018.6 392,1011 420,1003.9 442.9,998.1 462.2,992.1 479,987.4 493.8,982.9 507,978.8 519,975.3 529.9,970.7 539.9,965.8 549.2,963.4 557.9,960.1 566,958.4 573.6,955.3 580.8,950.3 587.6,949.7 594,946.9 600.1,943.2 606,941.9 611.5,939 616.9,935.6 622,933.4 626.9,933.4 631.7,929.9 636.2,928.6 640.6,927.5 644.9,925.2 649,923.4 653,921.7 656.8,918.9 660.6,917.1 664.2,915.7 667.8,915.5 671.2,915 674.6,909.3 677.8,911.7 681,910.3 684.1,909 687.1,906.4 690.1,905.7 693,904.8 695.8,905.7 698.5,904.1 701.2,903.3 703.9,898.9 706.5,901 709,900.6 711.5,897.2 713.9,896.6 716.3,898.9 718.7,896.6 721,895.7 723.2,895.7 725.4,892.9 727.6,892.9 729.8,891.8 731.9,890 734,891.8 736,889.6 738,889.9 740,887.9 741.9,882.7 743.8,881.9 745.7,884.4 747.6,881.6 749.4,880.1" stroke="#D95319"/>
<polyline points="181.9,1093.5 268.9,1083.6 319.8,1069.7 355.9,1055.8 383.9,1049.8 406.8,1044.7 426.1,1039.8 442.9,1034.7 457.7,1031.2 470.9,1025.5 482.9,1025.4 493.8,1026.2 503.8,1028.4 513.1,1027 521.8,1027.6 529.9,1025.6 537.5,1026 544.7,1025.4 551.4,1021.6 557.9,1020.8 564,1018.8 569.8,1015.6 575.4,1016.4 580.8,1012.7 585.9,1013.2 590.8,1013.2 595.6,1013.9 600.1,1008.6 604.5,1012.1 608.8,1013.2 612.9,1009.8 616.9,1009.7 620.7,1010.1 624.5,1009.9 628.1,1008.1 631.7,1009.8 635.1,1001.4 638.4,1004.7 641.7,1007 644.9,1009.6 648,1003.4 651,1003.1 654,1004 656.8,1008 659.7,1003.5 662.4,1008.1 665.1,1011.3 667.8,1006.9 670.4,1010.1 672.9,1008.7 675.4,1011.2 677.8,1005 680.2,1004 682.5,1009.4 684.9,1011.8 687.1,1004.6 689.3,1008.3 691.5,1002.8 693.7,1004.5 695.8,1000 697.8,1004 699.9,1002.1 701.9,1009.4 703.9,1004.7 705.8,1008.2 707.7,1010.2 709.6,998.1 711.5,1009.8 713.3,1004 715.1,1004.4 716.9,1001.5 718.7,997 720.4,999.6 722.1,1002.3 723.8,998.1 725.4,1003.4 727.1,1005.6 728.7,999.5 730.3,1000.5 731.9,1005.7 733.4,996.5 735,1004.3 736.5,995.6 738,1005.7 739.5,1001.1 741,998.9 742.4,1000.4 743.8,1008 745.3,995.7 746.7,995.7 748.1,1004.4 749.4,1003.6" stroke="#0072BD"/>
<polyline points="181.9,1071.7 268.9,1066.9 319.8,1063.2 355.9,1060.4 383.9,1061.2 406.8,1063.2 426.1,1063.8 442.9,1064.5 457.7,1051.4 470.9,1058.7 482.9,1051.9 493.8,1056.5 503.8,1047.6 513.1,1049.6 521.8,1048.1 529.9,1046.8 537.5,1044.7 544.7,1043.8 551.4,1046.4 557.9,1047.4 564,1046.3 569.8,1046.4 575.4,1047 580.8,1045.6 585.9,1047.7 590.8,1047.9 595.6,1043.2 600.1,1042.3 604.5,1045 608.8,1043.8 612.9,1043 616.9,1042.4 620.7,1044 624.5,1043 628.1,1043.1 631.7,1043.8 635.1,1037.5 638.4,1042.9 641.7,1042.8 644.9,1041.9 648,1040.9 651,1038.7 654,1037.7 656.8,1041.5 659.7,1038.3 662.4,1044.3 665.1,1041.4 667.8,1038.8 670.4,1040.7 672.9,1038 675.4,1035.5 677.8,1038.7 680.2,1035.3 682.5,1034.4 684.9,1034.9 687.1,1034.2 689.3,1034.2 691.5,1031 693.7,1031 695.8,1032.6 697.8,1031.4 699.9,1032 701.9,1027.6 703.9,1030.3 705.8,1029.4 707.7,1031.3 709.6,1032.6 711.5,1029.5 713.3,1030.7 715.1,1030.4 716.9,1031.5 718.7,1030.2 720.4,1029.4 722.1,1028.6 723.8,1029.3 725.4,1033.8 727.1,1034.8 728.7,1031.9 730.3,1029.1 731.9,1031.5 733.4,1033.5 735,1026.4 736.5,1030.6 738,1037.4 739.5,1032.9 741,1029.9 742.4,1032.5 743.8,1029.1 745.3,1034.7 746.7,1035.4 748.1,1036.6 749.4,1036.9" stroke="#A2142F"/>
<polyline points="218,997.6 305,991.3 355.9,988.5 392,986.1 420,984.9 442.9,983.3 462.2,983.3 479,980.9 493.8,980.3 507,983.3 519,979.2 529.9,979.5 539.9,978.6 549.2,980.1 557.9,980.9 566,975.3 573.6,981.1 580.8,979.2 587.6,979.5 594,977.5 600.1,977 606,979.7 611.5,974.9 616.9,975.9 622,975.6 626.9,976.6 631.7,978.2 636.2,974.9 640.6,979.1 644.9,976.6 649,978.1 653,977.5 656.8,978 660.6,975.8 664.2,974.1 667.8,975.5 671.2,971.3 674.6,972.5 677.8,971.7 681,976.6 684.1,972.7 687.1,969.6 690.1,972.3 693,977.2 695.8,971.8 698.5,971.3 701.2,972.3 703.9,974.9 706.5,975.8 709,971 711.5,973.3 713.9,969.9 716.3,966.1 718.7,971 721,964.8 723.2,971.7 725.4,967.4 727.6,973.4 729.8,967 731.9,969.2 734,970.5 736,970.8 738,964.5 740,966 741.9,966.6 743.8,964.1 745.7,960.8 747.6,973.2 749.4,971.8" stroke="#4DBEEE"/>
<polyline points="181.9,1043.5 268.9,1037.2 319.8,1033.8 355.9,1031.4 383.9,1030.1 406.8,1028.3 426.1,1025.5 442.9,1024.4 457.7,1024.2 470.9,1023.3 482.9,1022.8 493.8,1022.3 503.8,1015.8 513.1,1020.3 521.8,1019.3 529.9,1017.5 537.5,1018.2 544.7,1015.9 551.4,1015 557.9,1017.1 564,1012.9 569.8,1016.3 575.4,1015.4 580.8,1016.3 585.9,1014.2 590.8,1010.8 595.6,1017.2 600.1,1011.2 604.5,1012.4 608.8,1009.7 612.9,1011.1 616.9,1012.8 620.7,1011.1 624.5,1011 628.1,1002.3 631.7,1013.8 635.1,1008.5 638.4,1008.9 641.7,1013.8 644.9,1000.9 648,1006.4 651,1007.7 654,1005.1 656.8,1004.9 659.7,1010 662.4,999.1 665.1,1014.5 667.8,1004 670.4,1007 672.9,1002.1 675.4,1005.5 677.8,1009.1 680.2,1002.6 682.5,1007.3 684.9,997.9 687.1,998.1 689.3,1005.3 691.5,1014.3 693.7,1001.6 695.8,999.6 697.8,1000.7 699.9,997.6 701.9,1005.9 703.9,995.9 705.8,1009 707.7,1002.9 709.6,1000.8 711.5,1006.6 713.3,996 715.1,1006.9 716.9,1006.2 718.7,1000.1 720.4,1010.5 722.1,997.1 723.8,999.3 725.4,1002.8 727.1,998 728.7,1018.4 730.3,1012 731.9,1006.8 733.4,1008 735,995.6 736.5,1001.8 738,1000.4 739.5,993.9 741,1000.8 742.4,997.5 743.8,1000.3 745.3,1012.2 746.7,995.4 748.1,1001.9 749.4,1004.2" stroke="#0072BD"/>
<polyline points="181.9,1039 268.9,1029.5 319.8,1018.6 355.9,1008.5 383.9,1000.3 406.8,992.6 426.1,985.9 442.9,979.3 457.7,974.3 470.9,969.6 482.9,964.8 493.8,958.6 503.8,955.5 513.1,950 521.8,946.6 529.9,942.5 537.5,938.8 544.7,935.9 551.4,932.5 557.9,930.5 564,926.9 569.8,923.2 575.4,921.5 580.8,918.3 585.9,918.5 590.8,914.1 595.6,911.9 600.1,909 604.5,906.6 608.8,905.1 612.9,901.4 616.9,900.3 620.7,899.8 624.5,893.8 628.1,895.1 631.7,892.5 635.1,891.6 638.4,887.1 641.7,887.2 644.9,885.6 648,884.1 651,884.5 654,881.4 656.8,880.3 659.7,877.6 662.4,876.9 665.1,874.2 667.8,874.4 670.4,872.1 672.9,871.7 675.4,871.2 677.8,867.5 680.2,868.3 682.5,870.1 684.9,864.1 687.1,861.8 689.3,860 691.5,860.1 693.7,859.4 695.8,858.8 697.8,858.9 699.9,858 701.9,855.1 703.9,853.9 705.8,853.9 707.7,851.1 709.6,850.3 711.5,848.2 713.3,849.7 715.1,849.4 716.9,849.6 718.7,844.4 720.4,847.1 722.1,842.8 723.8,839.3 725.4,841.8 727.1,840.1 728.7,837.7 730.3,839.6 731.9,837.7 733.4,838 735,832.5 736.5,834.3 738,833.1 739.5,832.9 741,834.5 742.4,831.7 743.8,830.9 745.3,827 746.7,831 748.1,826.7 749.4,823.6" stroke="#4DBEEE"/>
<polyline points="181.9,989.5 268.9,980.4 319.8,972.2 355.9,965.5 383.9,960.3 406.8,955.5 426.1,952.1 442.9,947.4 457.7,944.6 470.9,941.3 482.9,938.4 493.8,934.5 503.8,933.7 513.1,930.8 521.8,928.1 529.9,926.3 537.5,924.2 544.7,922.6 551.4,921.7 557.9,919.3 564,918.1 569.8,917.5 575.4,915.6 580.8,913.8 585.9,912.4 590.8,911 595.6,910.1 600.1,909.2 604.5,908 608.8,904.4 612.9,904.2 616.9,903.1 620.7,903 624.5,901.7 628.1,901.8 631.7,901.2 635.1,897.8 638.4,897.4 641.7,898 644.9,897.9 648,897.4 651,893 654,893 656.8,892.2 659.7,891.6 662.4,895 665.1,892.2 667.8,890.9 670.4,888.8 672.9,891.2 675.4,887.9 677.8,886.8 680.2,886.6 682.5,886.8 684.9,884.3 687.1,886 689.3,884.9 691.5,883.4 693.7,885.9 695.8,879.7 697.8,881.9 699.9,882.3 701.9,881.6 703.9,880.9 705.8,877.7 707.7,878 709.6,879.4 711.5,878.2 713.3,879 715.1,878.9 716.9,877.9 718.7,878.9 720.4,878.1 722.1,873.9 723.8,876 725.4,871.9 727.1,872.8 728.7,873.8 730.3,872.7 731.9,871.1 733.4,872.5 735,872.8 736.5,871.2 738,870.9 739.5,871.3 741,871.4 742.4,874 743.8,869.5 745.3,869.1 746.7,867.6 748.1,868.3 749.4,869.5" stroke="#77AC30"/>
<polyline points="218,1050.5 305,1040.3 355.9,1033.1 392,1027.3 420,1023.9 442.9,1017.8 462.2,1016.9 479,1013.6 493.8,1011.9 507,1008.4 519,1005.7 529.9,1005 539.9,1004.6 549.2,999.1 557.9,998.6 566,998.4 573.6,997 580.8,994.8 587.6,994.5 594,991.3 600.1,991.6 606,992.3 611.5,990.6 616.9,989.3 622,985.7 626.9,986.8 631.7,985.7 636.2,984.4 640.6,987 644.9,985.2 649,983 653,983.5 656.8,980.9 660.6,978.9 664.2,982.8 667.8,977.5 671.2,977.1 674.6,980.4 677.8,973.7 681,977.5 684.1,977.4 687.1,974 690.1,978.6 693,974.6 695.8,973.1 698.5,977 701.2,973.9 703.9,976.5 706.5,974.1 709,972.7 711.5,974.1 713.9,967.3 716.3,967.7 718.7,968.2 721,970 723.2,969.6 725.4,967 727.6,973.4 729.8,966.8 731.9,963.9 734,967.1 736,967.9 738,965.6 740,958.5 741.9,962 743.8,962.2 745.7,959.9 747.6,958.7 749.4,966.4" stroke="#A2142F"/>
<polyline points="181.9,1052.1 268.9,1044 319.8,1035.3 355.9,1027.8 383.9,1021.2 406.8,1015.4 426.1,1010.4 442.9,1005.8 457.7,1001.1 470.9,998.5 482.9,994.8 493.8,990.9 503.8,987 513.1,984.8 521.8,980.7 529.9,979.3 537.5,977 544.7,973.6 551.4,972 557.9,969 564,967.9 569.8,963.6 575.4,962.7 580.8,961.2 585.9,959.3 590.8,958.5 595.6,957.4 600.1,954 604.5,954.5 608.8,950.9 612.9,950.4 616.9,947.8 620.7,946.6 624.5,946.8 628.1,945 631.7,944.3 635.1,945.2 638.4,942.5 641.7,940.5 644.9,940.5 648,938.6 651,937 654,936 656.8,934.9 659.7,930.8 662.4,933.5 665.1,933.4 667.8,931.2 670.4,929 672.9,924.1 675.4,926.7 677.8,928.5 680.2,925.1 682.5,921 684.9,922.3 687.1,923.1 689.3,920.8 691.5,919.2 693.7,922.2 695.8,917.2 697.8,916.5 699.9,917.6 701.9,916.8 703.9,916.6 705.8,916.2 707.7,911.1 709.6,911.3 711.5,908.5 713.3,910.2 715.1,909 716.9,912.5 718.7,912 720.4,910.7 722.1,907.3 723.8,904.7 725.4,904.1 727.1,905.9 728.7,906.4 730.3,903.5 731.9,904 733.4,906.3 735,907.8 736.5,903 738,903.4 739.5,902.2 741,900.1 742.4,901.3 743.8,901 745.3,899.6 746.7,894.8 748.1,896 749.4,893" stroke="#EDB120"/>
<polyline points="218,1011.6 305,1001.7 355.9,993.7 392,987 420,981.7 442.9,977.7 462.2,973.2 479,969.8 493.8,967.3 507,963.6 519,962.9 529.9,958.8 539.9,957 549.2,955.2 557.9,955 566,951 573.6,948.1 580.8,946.6 587.6,946.9 594,945.7 600.1,942.8 606,942.5 611.5,941.7 616.9,939.3 622,937.4 626.9,938 631.7,936.5 636.2,935.2 640.6,933.9 644.9,933.8 649,929 653,930.8 656.8,928.5 660.6,929.7 664.2,927.3 667.8,927.4 671.2,924.3 674.6,924.1 677.8,918.9 681,922 684.1,919.9 687.1,918.8 690.1,920 693,919.1 695.8,918.7 698.5,917.8 701.2,917.6 703.9,914.8 706.5,915.9 709,912.5 711.5,912.6 713.9,914.5 716.3,912.9 718.7,912.1 721,909.6 723.2,908.9 725.4,910.8 727.6,907.8 729.8,906.6 731.9,908.3 734,906.4 736,906.6 738,905.5 740,907.5 741.9,903.1 743.8,905 745.7,900.3 747.6,903.9 749.4,905.4" stroke="#7E2F8E"/>
<polyline points="131,966.8 218,966.1 268.9,967.5 305,968 333,965.7 355.9,962.5 375.2,959.6 392,956.7 406.8,953.2 420,951.1 432,948.7 442.9,946.8 452.9,943.6 462.2,941.1 470.9,939 479,936.6 486.6,933.5 493.8,931.7 500.6,929.8 507,927.5 513.1,924.5 519,921.3 524.5,919.4 529.9,918.3 535,915 539.9,913.5 544.7,910.4 549.2,908.5 553.6,904.2 557.9,902.5 562,899.6 566,898.8 569.8,898.2 573.6,894.4 577.2,893.8 580.8,891.8 584.2,892.1 587.6,889.5 590.8,890.5 594,887.8 597.1,887.3 600.1,884.3 603.1,885.1 606,880 608.8,879.2 611.5,880 614.2,878.2 616.9,878.5 619.5,876.4 622,876 624.5,872.5 626.9,874.4 629.3,873.2 631.7,872.7 634,870.6 636.2,870.2 638.4,868.5 640.6,867 642.8,867.7 644.9,867.9 647,864.6 649,862.3 651,859.5 653,859.9 654.9,861.3 656.8,861.5 658.7,861.3 660.6,858.7 662.4,859.7 664.2,860.9 666,859.5 667.8,859.4 669.5,858.2 671.2,855.7 672.9,857.1 674.6,858.4 676.2,856 677.8,852.9 679.4,853.4 681,855.6 682.5,856.2 684.1,856 685.6,851.6 687.1,854.5 688.6,851.4 690.1,852.2 691.5,850.4 693,852.9 694.4,848.4 695.8,850.5 697.2,851.1 698.5,849.2 699.9,849.8 701.2,851.9 702.6,849.3 703.9,850.7 705.2,847.5 706.5,846.2 707.7,844.7 709,848.7 710.2,846.9 711.5,848.8 712.7,847.1 713.9,847.2 715.1,848.4 716.3,848.2 717.5,845.8 718.7,848.1 719.8,845.3 721,845.4 722.1,851.5 723.2,848.5 724.3,845.4 725.4,844.5 726.5,842.3 727.6,842.5 728.7,844.6 729.8,843.6 730.8,842.4 731.9,843.5 732.9,842.7 734,843.9 735,840.7 736,842.5 737,838.1 738,841.6 739,841.6 740,838.3 741,839.3 741.9,841 742.9,838.3 743.8,841.4 744.8,842.3 745.7,836.8 746.7,841.5 747.6,839.7 748.5,836.4 749.4,840.3" stroke="#EDB120"/>
<polyline points="181.9,1137.5 268.9,1125.8 319.8,1118.3 355.9,1106 383.9,1098 406.8,1089.9 426.1,1086.1 442.9,1080.2 457.7,1071.7 470.9,1062.9 482.9,1055.3 493.8,1048.6 503.8,1042 513.1,1035.6 521.8,1029 529.9,1023.5 537.5,1018.4 544.7,1013.7 551.4,1008.5 557.9,1003.5 564,998.3 569.8,994.4 575.4,990.3 580.8,986.3 585.9,982.7 590.8,978.3 595.6,974.7 600.1,972.5 604.5,968.6 608.8,966.3 612.9,963.1 616.9,959.5 620.7,957.8 624.5,955.2 628.1,952.7 631.7,950.5 635.1,947.9 638.4,946.4 641.7,944.4 644.9,943.5 648,940.9 651,939.6 654,939 656.8,934.8 659.7,935.4 662.4,933.4 665.1,931.7 667.8,929.8 670.4,930.3 672.9,928.5 675.4,926.9 677.8,925.1 680.2,925.4 682.5,924.6 684.9,921.4 687.1,920.9 689.3,920.1 691.5,919.5 693.7,917.6 695.8,918.9 697.8,916.3 699.9,915.1 701.9,913.8 703.9,912.7 705.8,913.5 707.7,912.2 709.6,910.8 711.5,910.1 713.3,911.1 715.1,910.5 716.9,909.3 718.7,908.1 720.4,906.7 722.1,907.5 723.8,907.2 725.4,905.5 727.1,904.5 728.7,905.6 730.3,902.7 731.9,903.2 733.4,904.3 735,901.9 736.5,901.3 738,898.8 739.5,899.6 741,899.9 742.4,901.5 743.8,897.9 745.3,900.8 746.7,898.1 748.1,897.4 749.4,897.7" stroke="#D95319"/>
<polyline points="181.9,1032.3 268.9,1024.3 319.8,1015 355.9,1006.4 383.9,999.2 406.8,993 426.1,987.1 442.9,982.2 457.7,976.6 470.9,972.8 482.9,968.5 493.8,964.5 503.8,961.2 513.1,956.1 521.8,954.3 529.9,950.5 537.5,948.4 544.7,944.5 551.4,941.7 557.9,938.5 564,936.6 569.8,932.4 575.4,931.4 580.8,928 585.9,926.2 590.8,923.9 595.6,923.5 600.1,919.3 604.5,917.5 608.8,915.6 612.9,914.9 616.9,912.8 620.7,910.1 624.5,909.4 628.1,907.7 631.7,905.1 635.1,904.6 638.4,903.2 641.7,902.5 644.9,898.9 648,896.8 651,895.5 654,897.1 656.8,893.3 659.7,892 662.4,891.4 665.1,890.4 667.8,887.7 670.4,886.6 672.9,886.7 675.4,886.5 677.8,882 680.2,880.5 682.5,881.3 684.9,880.7 687.1,879.9 689.3,877.3 691.5,876.5 693.7,872.2 695.8,871.4 697.8,873.4 699.9,868 701.9,869.8 703.9,866.4 705.8,866.9 707.7,864.1 709.6,861.1 711.5,860 713.3,857.9 715.1,862.5 716.9,862.2 718.7,862.8 720.4,860.6 722.1,860.7 723.8,857.4 725.4,858.5 727.1,856.7 728.7,856.2 730.3,853.1 731.9,853.3 733.4,854.5 735,853.9 736.5,852 738,853.5 739.5,851.9 741,852.5 742.4,849.2 743.8,849.5 745.3,847.5 746.7,846.7 748.1,847.7 749.4,845.7" stroke="#EDB120"/>
<polyline points="218,1008.4 305,1006.3 355.9,1004.8 392,1003.9 420,1002.8 442.9,1001.9 462.2,1001.7 479,1000.7 493.8,1002.2 507,1000.6 519,998.6 529.9,1001.2 539.9,1001.4 549.2,996.9 557.9,999.6 566,1000.7 573.6,995.8 580.8,996.8 587.6,1001.1 594,996.8 600.1,997.4 606,999.2 611.5,996.7 616.9,994.3 622,989.9 626.9,993.9 631.7,993.9 636.2,996.4 640.6,988.1 644.9,996.1 649,998.1 653,993.9 656.8,992.9 660.6,996.9 664.2,997.9 667.8,993.7 671.2,997.5 674.6,997.2 677.8,994.7 681,992.2 684.1,993 687.1,995.6 690.1,992.9 693,993.8 695.8,992.5 698.5,997.9 701.2,997.5 703.9,994 706.5,993.7 709,997 711.5,997 713.9,990.3 716.3,994 718.7,997.8 721,991.2 723.2,996.6 725.4,996.1 727.6,995 729.8,993.8 731.9,990.3 734,995.6 736,994.9 738,1001.8 740,991.7 741.9,988.2 743.8,986.8 745.7,982.2 747.6,983.2 749.4,994.6" stroke="#D95319"/>
<polyline points="218,989.8 305,980.8 355.9,974.4 392,969.7 420,965.9 442.9,962.6 462.2,959.8 479,958.2 493.8,956.8 507,953.9 519,952.3 529.9,950.3 539.9,950.1 549.2,949 557.9,946.7 566,946.2 573.6,945.9 580.8,945.3 587.6,943.1 594,942.5 600.1,941.3 606,939.7 611.5,939.6 616.9,938.8 622,938.4 626.9,936.2 631.7,936.7 636.2,933.6 640.6,933.3 644.9,933.2 649,933.9 653,933.1 656.8,931.1 660.6,931.7 664.2,931.5 667.8,932.5 671.2,930.8 674.6,929.9 677.8,931.5 681,928.9 684.1,929.1 687.1,926.3 690.1,927.2 693,926 695.8,926.4 698.5,928.5 701.2,927.8 703.9,925.6 706.5,927.2 709,928.7 711.5,925.5 713.9,924.9 716.3,923 718.7,927.1 721,920.9 723.2,922.4 725.4,921.3 727.6,923.1 729.8,921.9 731.9,923.2 734,920.6 736,919 738,917.3 740,918.7 741.9,920.1 743.8,920.6 745.7,916.3 747.6,917.6 749.4,915.8" stroke="#D95319"/>
<polyline points="181.9,1028.2 268.9,1019.3 319.8,1013.1 355.9,1008.2 383.9,1004.7 406.8,1001.9 426.1,998.6 442.9,997 457.7,995 470.9,992.7 482.9,991.9 493.8,988.8 503.8,987.2 513.1,986.1 521.8,985.3 529.9,983.8 537.5,982.5 544.7,982.1 551.4,981.3 557.9,979.3 564,978.6 569.8,978 575.4,975.8 580.8,977.2 585.9,976.7 590.8,975.6 595.6,974.4 600.1,975.9 604.5,972.9 608.8,973.3 612.9,973.7 616.9,972.1 620.7,971 624.5,972.5 628.1,970.2 631.7,969.7 635.1,970 638.4,967.8 641.7,967 644.9,967.3 648,970 651,967.3 654,967.3 656.8,968.6 659.7,965 662.4,966.6 665.1,965.1 667.8,965 670.4,961.6 672.9,963.3 675.4,963.7 677.8,963.1 680.2,958.7 682.5,961.6 684.9,961.9 687.1,961.7 689.3,960.9 691.5,960.6 693.7,963.9 695.8,959.1 697.8,961.8 699.9,959.4 701.9,957.8 703.9,961.4 705.8,960.8 707.7,958.4 709.6,960.2 711.5,956.5 713.3,957 715.1,959.8 716.9,962.4 718.7,960.7 720.4,957.8 722.1,954.1 723.8,953.1 725.4,953.2 727.1,959 728.7,955.9 730.3,960.9 731.9,955 733.4,951.9 735,955.2 736.5,954.4 738,950.3 739.5,956.2 741,952.4 742.4,957.5 743.8,949.8 745.3,950.4 746.7,953.4 748.1,951.9 749.4,948.2" stroke="#EDB120"/>
<polyline points="218,1054.7 305,1047.6 355.9,1040.7 392,1035.4 420,1030.4 442.9,1027.5 462.2,1022.5 479,1020.2 493.8,1018.2 507,1015.2 519,1014 529.9,1010.9 539.9,1007.6 549.2,1004.5 557.9,1002.7 566,1002.4 573.6,999.5 580.8,997.6 587.6,992.7 594,996.8 600.1,993.3 606,989.7 611.5,995.5 616.9,990.9 622,988.2 626.9,989.2 631.7,986.5 636.2,984.1 640.6,984.9 644.9,985.5 649,982.8 653,976 656.8,981.4 660.6,980.8 664.2,978.9 667.8,977.3 671.2,973.4 674.6,974.9 677.8,972.4 681,973.8 684.1,975.7 687.1,975.1 690.1,967.8 693,974.6 695.8,968.7 698.5,968.8 701.2,968.1 703.9,969.9 706.5,971.3 709,967.5 711.5,967.1 713.9,968.2 716.3,969.6 718.7,965.7 721,968 723.2,964.1 725.4,962.7 727.6,963.4 729.8,962.1 731.9,961.6 734,965 736,961 738,961.9 740,957.3 741.9,959.2 743.8,959 745.7,957.9 747.6,957.2 749.4,955.3" stroke="#0072BD"/>
<polyline points="131,1006.8 218,995.6 268.9,989.8 305,984.2 333,977.6 355.9,972.3 375.2,967.1 392,962.4 406.8,957.6 420,953 432,949.8 442.9,946.8 452.9,943.8 462.2,940 470.9,937.8 479,935.9 486.6,931.6 493.8,930.6 500.6,927.4 507,928.3 513.1,925.4 519,923.3 524.5,921 529.9,919.8 535,919.8 539.9,918.6 544.7,913.3 549.2,915.3 553.6,916.3 557.9,911.7 562,909 566,908.4 569.8,909.5 573.6,909.9 577.2,909.5 580.8,906.9 584.2,907 587.6,907.1 590.8,904.7 594,906.2 597.1,903.7 600.1,902.4 603.1,901.7 606,903.7 608.8,901.5 611.5,903.3 614.2,898 616.9,900.1 619.5,900.2 622,899.3 624.5,897.6 626.9,895.9 629.3,900 631.7,899.3 634,898.9 636.2,894.6 638.4,896.1 640.6,894.4 642.8,894.6 644.9,896.1 647,895.3 649,892.3 651,896.4 653,892.8 654.9,894.6 656.8,894.6 658.7,892.7 660.6,895.3 662.4,891.5 664.2,889.7 666,893.1 667.8,889.1 669.5,894.8 671.2,893.6 672.9,890.5 674.6,889.4 676.2,891 677.8,892.3 679.4,889.8 681,891 682.5,891.2 684.1,891.2 685.6,892 687.1,889.1 688.6,886.8 690.1,887.8 691.5,887.7 693,889.7 694.4,887.8 695.8,884.8 697.2,890.7 698.5,887.6 699.9,888 701.2,887.2 702.6,888.2 703.9,880 705.2,885 706.5,887.2 707.7,887.5 709,884.3 710.2,884.5 711.5,883 712.7,883.5 713.9,884.7 715.1,881.4 716.3,887.6 717.5,883.9 718.7,881.4 719.8,882.2 721,888.5 722.1,885.9 723.2,883.3 724.3,884.6 725.4,885.3 726.5,885.9 727.6,886 728.7,884.7 729.8,884.8 730.8,883.3 731.9,886.4 732.9,880.7 734,883.5 735,879.7 736,882.4 737,883.7 738,882 739,881.1 740,880.2 741,884.3 741.9,884.1 742.9,881.2 743.8,882.1 744.8,882.2 745.7,883.9 746.7,885.2 747.6,886.1 748.5,884 749.4,883.5" stroke="#7E2F8E"/>
<polyline points="218,1040 305,1030.2 355.9,1020.9 392,1013.6 420,1007.1 442.9,1001.9 462.2,997.4 479,993.3 493.8,988.4 507,984.8 519,982.5 529.9,978.9 539.9,977.1 549.2,974.2 557.9,971.7 566,969.2 573.6,967.9 580.8,966.1 587.6,962.9 594,961.3 600.1,961.4 606,957.9 611.5,957.9 616.9,955.7 622,953.8 626.9,954 631.7,951.1 636.2,949.2 640.6,946.1 644.9,948.3 649,947.7 653,945.4 656.8,944.4 660.6,942.8 664.2,943.1 667.8,943 671.2,937.1 674.6,935.6 677.8,939.3 681,935.3 684.1,934.5 687.1,934.4 690.1,933.3 693,931.4 695.8,930.1 698.5,929.5 701.2,927.9 703.9,929.5 706.5,930.8 709,925.7 711.5,925.5 713.9,923 716.3,922.5 718.7,922.2 721,921.2 723.2,922.5 725.4,923.4 727.6,921 729.8,920 731.9,921.8 734,916.6 736,917.1 738,918.7 740,914.6 741.9,913.6 743.8,916.4 745.7,915.6 747.6,910.6 749.4,910.4" stroke="#7E2F8E"/>
<polyline points="181.9,993.3 268.9,983.1 319.8,975.3 355.9,969.5 383.9,965 406.8,960.7 426.1,956.9 442.9,953.8 457.7,951.7 470.9,948.6 482.9,947.4 493.8,943.6 503.8,942.8 513.1,941.7 521.8,938.5 529.9,937.2 537.5,935.2 544.7,933.9 551.4,933.3 557.9,930.5 564,929.9 569.8,928.9 575.4,927 580.8,926.3 585.9,924.6 590.8,924 595.6,922.9 600.1,921 604.5,921.5 608.8,920.2 612.9,917.5 616.9,919.9 620.7,917.4 624.5,916.9 628.1,916.2 631.7,916.7 635.1,914.4 638.4,912.9 641.7,911.6 644.9,911.9 648,912.6 651,911.5 654,911.5 656.8,910.5 659.7,911.8 662.4,909.5 665.1,908.5 667.8,908.9 670.4,907.8 672.9,907.7 675.4,907.1 677.8,905.2 680.2,906.6 682.5,902.8 684.9,903.9 687.1,902.5 689.3,900.9 691.5,901.1 693.7,900.3 695.8,902.8 697.8,903.2 699.9,898.3 701.9,902.4 703.9,900.9 705.8,898.6 707.7,896.9 709.6,899.1 711.5,897.7 713.3,899.4 715.1,898.7 716.9,899.1 718.7,896.7 720.4,898.5 722.1,900.1 723.8,893.5 725.4,892.4 727.1,897.8 728.7,894.6 730.3,897.5 731.9,894.7 733.4,891.8 735,891.1 736.5,892.7 738,896 739.5,893.8 741,892.9 742.4,898.4 743.8,894.6 745.3,895 746.7,893.5 748.1,896.7 749.4,892.6" stroke="#7E2F8E"/>
<polyline points="181.9,1002.7 268.9,994.4 319.8,989.2 355.9,985.8 383.9,983.4 406.8,980.4 426.1,978.8 442.9,977.3 457.7,975.5 470.9,974.8 482.9,971.9 493.8,971.4 503.8,969.5 513.1,968.3 521.8,968.1 529.9,967.4 537.5,966.1 544.7,965.7 551.4,965.6 557.9,963.8 564,965.5 569.8,964.1 575.4,963.6 580.8,962.5 585.9,961.5 590.8,962.6 595.6,960.3 600.1,962.2 604.5,961.7 608.8,958.9 612.9,958.2 616.9,958 620.7,959.3 624.5,957.5 628.1,957.7 631.7,956.4 635.1,956.4 638.4,955 641.7,956.3 644.9,955.1 648,955.4 651,954.1 654,953.9 656.8,956.4 659.7,952.6 662.4,953.7 665.1,950.9 667.8,954.2 670.4,951.9 672.9,957 675.4,954.7 677.8,954.7 680.2,952.8 682.5,954.5 684.9,951.6 687.1,953.4 689.3,952.5 691.5,949.9 693.7,952.9 695.8,951 697.8,951.7 699.9,952.6 701.9,952.1 703.9,950.9 705.8,951.4 707.7,945.7 709.6,951.4 711.5,953.2 713.3,951.1 715.1,953 716.9,951.6 718.7,953.2 720.4,950.4 722.1,951.8 723.8,951.4 725.4,952 727.1,951 728.7,951.2 730.3,948.2 731.9,948.4 733.4,948.1 735,947.8 736.5,943.7 738,948.9 739.5,948 741,948 742.4,946.8 743.8,946.6 745.3,947.6 746.7,944.4 748.1,942.6 749.4,948.2" stroke="#D95319"/>
<polyline points="181.9,971 268.9,948.2 319.8,940.6 355.9,933.7 383.9,924.5 406.8,915.5 426.1,908.3 442.9,902 457.7,897.4 470.9,894 482.9,890.4 493.8,888.3 503.8,883.8 513.1,877.8 521.8,873.4 529.9,869.3 537.5,865.1 544.7,861.2 551.4,856.5 557.9,850.7 564,848.1 569.8,845.5 575.4,842.3 580.8,839.8 585.9,837.8 590.8,836.1 595.6,834.7 600.1,833.4 604.5,830.8 608.8,828.3 612.9,827.1 616.9,824.3 620.7,821.3 624.5,821.7 628.1,819.6 631.7,819.5 635.1,817.6 638.4,818.9 641.7,816.4 644.9,817.3 648,818 651,816.4 654,815.3 656.8,814 659.7,813.9 662.4,814.3 665.1,811.3 667.8,811.6 670.4,812.7 672.9,810.8 675.4,811.3 677.8,810.3 680.2,808.3 682.5,808.2 684.9,808.5 687.1,805.9 689.3,804.6 691.5,803.4 693.7,800.5 695.8,798.6 697.8,797.1 699.9,794.3 701.9,792.3 703.9,790.7 705.8,789.7 707.7,786 709.6,783.6 711.5,784.8 713.3,781.3 715.1,777.1 716.9,776.9 718.7,774.6 720.4,775.6 722.1,772.6 723.8,772.1 725.4,773 727.1,769.7 728.7,769.2 730.3,768.4 731.9,767.9 733.4,766.8 735,766 736.5,762.9 738,762.8 739.5,759.5 741,760.2 742.4,759.1 743.8,760.3 745.3,758.1 746.7,756.4 748.1,755.5 749.4,754.1" stroke="#A2142F"/>
<polyline points="181.9,957.5 268.9,944.5 319.8,927.3 355.9,914.8 383.9,904.7 406.8,899.7 426.1,894.3 442.9,887.4 457.7,879.9 470.9,874.7 482.9,873.7 493.8,873.2 503.8,871.4 513.1,868.3 521.8,866.7 529.9,866.1 537.5,865.4 544.7,864.3 551.4,863.5 557.9,863.8 564,860.3 569.8,859.3 575.4,859.2 580.8,860.6 585.9,859.3 590.8,860.1 595.6,860.5 600.1,859.9 604.5,861.5 608.8,864.4 612.9,863.5 616.9,863 620.7,863.5 624.5,861.8 628.1,861.5 631.7,860.6 635.1,859.6 638.4,859.6 641.7,859.9 644.9,858.7 648,859 651,858.3 654,858.5 656.8,860.1 659.7,858.9 662.4,856.6 665.1,857.6 667.8,859.7 670.4,859.5 672.9,855.9 675.4,857.6 677.8,856.8 680.2,853.6 682.5,856.7 684.9,858.5 687.1,855 689.3,855.2 691.5,856.6 693.7,854.7 695.8,854.6 697.8,855.5 699.9,853.2 701.9,855.7 703.9,853.2 705.8,854.8 707.7,855.7 709.6,856.8 711.5,853.4 713.3,854.6 715.1,854.4 716.9,851.3 718.7,853.3 720.4,853.5 722.1,853.7 723.8,855.6 725.4,852.8 727.1,852.4 728.7,852.1 730.3,852 731.9,852.5 733.4,854.1 735,850.1 736.5,851.6 738,847.8 739.5,848.7 741,851.1 742.4,847.4 743.8,850.9 745.3,852.3 746.7,848.9 748.1,848.9 749.4,850" stroke="#A2142F"/>
<polyline points="181.9,947.6 268.9,946.8 319.8,945.2 355.9,939.2 383.9,932.6 406.8,928.8 426.1,926.3 442.9,923.9 457.7,924.1 470.9,923 482.9,923.6 493.8,921.6 503.8,920.9 513.1,920.5 521.8,921.3 529.9,918.1 537.5,917.5 544.7,916.3 551.4,916.2 557.9,917 564,915.2 569.8,915.6 575.4,913 580.8,910.7 585.9,912 590.8,908.1 595.6,910 600.1,906.8 604.5,903 608.8,906 612.9,903 616.9,903 620.7,901.8 624.5,899.9 628.1,897.5 631.7,900.3 635.1,896.1 638.4,895.5 641.7,892.7 644.9,896.3 648,895.9 651,888.7 654,888.9 656.8,890.8 659.7,891.6 662.4,891.8 665.1,889.6 667.8,892.9 670.4,891.8 672.9,886.8 675.4,890.7 677.8,889.6 680.2,889 682.5,887.1 684.9,890.2 687.1,887.7 689.3,883.4 691.5,889.6 693.7,887.7 695.8,888 697.8,884.2 699.9,885 701.9,885.5 703.9,889 705.8,888.9 707.7,886.1 709.6,894.8 711.5,885 713.3,881.8 715.1,889.3 716.9,883.1 718.7,883.8 720.4,887.9 722.1,882.2 723.8,885.4 725.4,887 727.1,888.4 728.7,890 730.3,886 731.9,890.3 733.4,881.9 735,884.4 736.5,885.9 738,886.8 739.5,888 741,891.4 742.4,890.2 743.8,892.2 745.3,890.1 746.7,882.4 748.1,893.1 749.4,887.3" stroke="#7E2F8E"/>
<polyline points="181.9,1015.7 268.9,1009.2 319.8,1002.6 355.9,997.3 383.9,992.2 406.8,988.5 426.1,984.8 442.9,981.4 457.7,979.2 470.9,975.9 482.9,973 493.8,970.7 503.8,968.6 513.1,967.1 521.8,964.8 529.9,962.1 537.5,960 544.7,959.1 551.4,956 557.9,956.3 564,954.2 569.8,952.5 575.4,952 580.8,950.5 585.9,947.7 590.8,949.8 595.6,945.4 600.1,944.4 604.5,945.7 608.8,943.8 612.9,941.4 616.9,940 620.7,939.8 624.5,940.1 628.1,936.8 631.7,938.4 635.1,935.5 638.4,938.3 641.7,937.5 644.9,938 648,935.4 651,934.2 654,931.7 656.8,931.7 659.7,931.1 662.4,929.7 665.1,930.6 667.8,927.7 670.4,926.7 672.9,926.9 675.4,927.4 677.8,926.4 680.2,927.4 682.5,925.4 684.9,925.9 687.1,922.1 689.3,924.2 691.5,922.6 693.7,922 695.8,923.5 697.8,922 699.9,921.4 701.9,920.5 703.9,919.9 705.8,919.8 707.7,918.5 709.6,921.1 711.5,915.5 713.3,919.6 715.1,917.7 716.9,916.4 718.7,916.9 720.4,915.7 722.1,916.1 723.8,912.4 725.4,914.4 727.1,912.8 728.7,911.5 730.3,911.3 731.9,910.2 733.4,912.2 735,910.9 736.5,910.7 738,912.6 739.5,910.6 741,907.4 742.4,907.7 743.8,909.6 745.3,909.7 746.7,905.9 748.1,904.1 749.4,907.9" stroke="#EDB120"/>
<polyline points="218,1047.3 305,1039.9 355.9,1032.6 392,1026.6 420,1020.8 442.9,1016.9 462.2,1012.1 479,1008.3 493.8,1005.8 507,1002.8 519,999.3 529.9,997.1 539.9,996.2 549.2,994.9 557.9,990.4 566,990 573.6,986.8 580.8,985.7 587.6,982.9 594,982 600.1,980.7 606,978.3 611.5,976.7 616.9,974.7 622,974.9 626.9,973.7 631.7,973.1 636.2,972.1 640.6,968 644.9,967.4 649,969.1 653,965.2 656.8,963.2 660.6,967.3 664.2,961 667.8,961.3 671.2,962.6 674.6,959.3 677.8,961.1 681,957.5 684.1,957 687.1,959.6 690.1,955 693,953.6 695.8,951.4 698.5,952.4 701.2,954.1 703.9,953.6 706.5,950.9 709,953.3 711.5,947.8 713.9,951.2 716.3,948.6 718.7,946.4 721,945.4 723.2,946.7 725.4,943.1 727.6,943.2 729.8,943.2 731.9,940.7 734,941.7 736,943.4 738,942.1 740,943.2 741.9,938.7 743.8,941.2 745.7,936.3 747.6,934.5 749.4,936.5" stroke="#A2142F"/>
<polyline points="181.9,1036 268.9,1028 319.8,1019.3 355.9,1011.5 383.9,1004.8 406.8,999 426.1,993.7 442.9,988.6 457.7,983.9 470.9,981 482.9,976.6 493.8,973.6 503.8,969.5 513.1,967.8 521.8,961.5 529.9,960.3 537.5,955.5 544.7,956.2 551.4,951.9 557.9,950.8 564,947 569.8,944.6 575.4,942.7 580.8,940.7 585.9,940.2 590.8,936.5 595.6,933.6 600.1,933.2 604.5,933.7 608.8,932.5 612.9,928.7 616.9,925.7 620.7,924 624.5,924.4 628.1,923.1 631.7,920.2 635.1,919.6 638.4,919.7 641.7,917 644.9,915.6 648,915.5 651,912.2 654,912.4 656.8,911.4 659.7,909.8 662.4,908.4 665.1,907.8 667.8,908.3 670.4,902.7 672.9,906.1 675.4,903.7 677.8,902.1 680.2,902.4 682.5,902.2 684.9,901.7 687.1,898.9 689.3,897.2 691.5,897.4 693.7,894.7 695.8,897.9 697.8,900.1 699.9,892.5 701.9,895.4 703.9,893 705.8,891.1 707.7,891.8 709.6,891.1 711.5,889.1 713.3,887 715.1,887.8 716.9,885.4 718.7,887.5 720.4,885.1 722.1,886.3 723.8,884 725.4,883 727.1,881.1 728.7,882.6 730.3,881.3 731.9,879.8 733.4,879.9 735,881.1 736.5,878.7 738,876.7 739.5,878.7 741,877.1 742.4,873.5 743.8,879.9 745.3,873.1 746.7,873.2 748.1,870.1 749.4,872" stroke="#D95319"/>
<polyline points="181.9,985 268.9,970.4 319.8,965.6 355.9,960 383.9,955.2 406.8,950.3 426.1,946.7 442.9,942.8 457.7,938.5 470.9,936 482.9,931.7 493.8,928 503.8,925.6 513.1,923.3 521.8,920.3 529.9,919.7 537.5,916.4 544.7,914.8 551.4,912.3 557.9,907.5 564,906.4 569.8,902.4 575.4,902.5 580.8,902.6 585.9,899.2 590.8,897.8 595.6,897.3 600.1,896.4 604.5,893.9 608.8,892.4 612.9,891.8 616.9,889.6 620.7,887.3 624.5,886.3 628.1,884.3 631.7,883.2 635.1,884.2 638.4,880.8 641.7,879.6 644.9,880.8 648,876.9 651,878.8 654,875.2 656.8,874.5 659.7,873.9 662.4,873.2 665.1,871.6 667.8,869.2 670.4,868.1 672.9,868.3 675.4,866.8 677.8,864.7 680.2,865.2 682.5,864.9 684.9,862.6 687.1,863.3 689.3,860.2 691.5,858 693.7,857.4 695.8,855.6 697.8,853.9 699.9,855 701.9,851.9 703.9,851.3 705.8,850.7 707.7,850.7 709.6,850.1 711.5,848.6 713.3,844.5 715.1,846.3 716.9,844.5 718.7,844.9 720.4,846.4 722.1,846.1 723.8,844.9 725.4,844.7 727.1,840.5 728.7,842.5 730.3,842.4 731.9,839.1 733.4,840.2 735,838.4 736.5,840.5 738,840.1 739.5,836.3 741,838.7 742.4,834.8 743.8,837.9 745.3,832.7 746.7,833.3 748.1,833.2 749.4,829.5" stroke="#D95319"/>
<polyline points="218,1065.8 305,1055.6 355.9,1058.6 392,1049.2 420,1038.3 442.9,1029.6 462.2,1019.7 479,1008.6 493.8,998.1 507,986.6 519,975 529.9,964.1 539.9,953.6 549.2,943.7 557.9,934.5 566,925.9 573.6,917.5 580.8,909.8 587.6,903.4 594,896.4 600.1,890 606,884.7 611.5,878.1 616.9,873.2 622,868.7 626.9,863.8 631.7,859.3 636.2,854.6 640.6,850.4 644.9,846.4 649,842.5 653,839.1 656.8,835.7 660.6,832.2 664.2,829 667.8,824.5 671.2,821.8 674.6,818.4 677.8,816.4 681,812.7 684.1,810.2 687.1,807.3 690.1,804.3 693,801.6 695.8,799.5 698.5,797.1 701.2,794.2 703.9,792.7 706.5,789.5 709,787.5 711.5,785.1 713.9,783.3 716.3,780.2 718.7,779.5 721,777.2 723.2,775.3 725.4,773.7 727.6,771.5 729.8,768.7 731.9,767.3 734,765.3 736,763.7 738,762.6 740,761.3 741.9,758.3 743.8,756.7 745.7,755.6 747.6,754.1 749.4,752.6" stroke="#4DBEEE"/>
<polyline points="181.9,1022 268.9,1015.5 319.8,1011.9 355.9,1008.9 383.9,1007.8 406.8,1004.2 426.1,1004.1 442.9,1003.2 457.7,1001.4 470.9,998.1 482.9,1000.7 493.8,1000.1 503.8,998.1 513.1,997.9 521.8,995.7 529.9,997.1 537.5,995.7 544.7,996.8 551.4,996.7 557.9,993 564,994.4 569.8,994.4 575.4,993.6 580.8,987.5 585.9,992.1 590.8,990.5 595.6,992.2 600.1,993.6 604.5,988.5 608.8,987.6 612.9,994.3 616.9,990 620.7,987.1 624.5,988.8 628.1,990.7 631.7,987 635.1,985.2 638.4,986.8 641.7,988.2 644.9,987 648,983.4 651,986.7 654,980.7 656.8,988.6 659.7,985.5 662.4,986.9 665.1,986.7 667.8,983.3 670.4,984.1 672.9,983.3 675.4,985.3 677.8,985.8 680.2,985.5 682.5,978.8 684.9,987.5 687.1,990 689.3,986.4 691.5,982.6 693.7,985.1 695.8,988.4 697.8,983.9 699.9,985.4 701.9,985.3 703.9,983.4 705.8,986.6 707.7,986.7 709.6,986.3 711.5,986 713.3,987.5 715.1,990 716.9,985.8 718.7,983 720.4,984.8 722.1,986.3 723.8,985.3 725.4,986.1 727.1,982.7 728.7,981.1 730.3,985.5 731.9,989.2 733.4,987.3 735,984.6 736.5,987.8 738,990.2 739.5,984.5 741,980.4 742.4,983.3 743.8,990.4 745.3,990.4 746.7,984.6 748.1,984.9 749.4,979" stroke="#77AC30"/>
<polyline points="218,1000.4 305,990.8 355.9,983.9 392,979.3 420,975 442.9,971.6 462.2,968.5 479,965.7 493.8,963.6 507,961.6 519,960.6 529.9,957.9 539.9,955.9 549.2,954 557.9,954 566,951.8 573.6,950.8 580.8,950.3 587.6,948.6 594,946.9 600.1,946.4 606,945.2 611.5,946.1 616.9,943.9 622,943.4 626.9,941.9 631.7,939.8 636.2,940.8 640.6,941.2 644.9,939 649,939.3 653,938.8 656.8,935.2 660.6,934.2 664.2,933.5 667.8,934 671.2,933.3 674.6,933.6 677.8,933.3 681,933.4 684.1,933.3 687.1,930 690.1,932.4 693,929.8 695.8,929.1 698.5,928.6 701.2,929.2 703.9,926.2 706.5,926 709,928.3 711.5,924.9 713.9,925.1 716.3,926.3 718.7,923.6 721,925.1 723.2,924.2 725.4,924.2 727.6,920.3 729.8,924.9 731.9,927.5 734,926 736,923.4 738,922.7 740,920.7 741.9,923.3 743.8,921.9 745.7,920.6 747.6,920.5 749.4,925.9" stroke="#77AC30"/>
<polyline points="218,979.9 305,953.4 355.9,935.1 392,920.6 420,909.5 442.9,900.3 462.2,892.7 479,884.4 493.8,877.3 507,870.3 519,864.3 529.9,857.9 539.9,851.8 549.2,845.2 557.9,840.8 566,837.8 573.6,834.4 580.8,830.2 587.6,826.1 594,820.1 600.1,812.5 606,802.1 611.5,795.3 616.9,791.8 622,790.8 626.9,788.3 631.7,786.4 636.2,783.5 640.6,780.2 644.9,778.7 649,776.2 653,777.5 656.8,776.7 660.6,776.5 664.2,776.1 667.8,776.1 671.2,775 674.6,774.6 677.8,773.4 681,773.1 684.1,773.2 687.1,773.6 690.1,772.8 693,772.3 695.8,772.3 698.5,773.9 701.2,773.8 703.9,775 706.5,776.1 709,774.3 711.5,776.5 713.9,776.7 716.3,775 718.7,775.7 721,776.9 723.2,775.7 725.4,775.5 727.6,777 729.8,775.6 731.9,775.4 734,776.5 736,775.6 738,775.3 740,776 741.9,775.5 743.8,771.9 745.7,773.8 747.6,772.1 749.4,771" stroke="#77AC30"/>
<polyline points="181.9,974.8 268.9,951.5 319.8,938.8 355.9,929 383.9,920.4 406.8,912 426.1,903.5 442.9,894.5 457.7,885.9 470.9,878.5 482.9,871.2 493.8,864.9 503.8,859.1 513.1,853.5 521.8,848.7 529.9,844.2 537.5,840.6 544.7,836.5 551.4,832 557.9,826.3 564,821.3 569.8,818 575.4,816.5 580.8,814.2 585.9,810.5 590.8,807.3 595.6,803.8 600.1,800.6 604.5,797.9 608.8,795.4 612.9,792.8 616.9,790.8 620.7,788.3 624.5,787.1 628.1,784.9 631.7,783.8 635.1,782.1 638.4,781.8 641.7,779.9 644.9,779.1 648,776.8 651,775.9 654,774.6 656.8,772.6 659.7,771 662.4,769.3 665.1,767.5 667.8,765.7 670.4,763.8 672.9,763 675.4,760.8 677.8,759.2 680.2,757.7 682.5,755.4 684.9,753.8 687.1,752.3 689.3,752.4 691.5,750 693.7,749.2 695.8,746.7 697.8,746.1 699.9,745.1 701.9,743.5 703.9,743.2 705.8,741.3 707.7,740.2 709.6,739.7 711.5,738.8 713.3,737 715.1,735.5 716.9,734.5 718.7,734.3 720.4,732.1 722.1,731.1 723.8,730.1 725.4,730.2 727.1,728.8 728.7,727.2 730.3,726.3 731.9,725.8 733.4,724.6 735,723.4 736.5,722.6 738,722.1 739.5,721 741,720.4 742.4,719.3 743.8,718.2 745.3,718 746.7,717.2 748.1,714.9 749.4,715.4" stroke="#77AC30"/>
<polyline points="218,1065.2 305,1057.9 355.9,1049.8 392,1042.5 420,1036.2 442.9,1030.6 462.2,1026.2 479,1022 493.8,1018.6 507,1013.3 519,1011.1 529.9,1007.3 539.9,1004.4 549.2,1001.7 557.9,997.7 566,997.1 573.6,995 580.8,991.6 587.6,989.8 594,987.8 600.1,985.4 606,984.5 611.5,980.8 616.9,979.4 622,977.4 626.9,978.7 631.7,975.8 636.2,974.3 640.6,974.2 644.9,971.3 649,970.5 653,968.4 656.8,967.1 660.6,966.8 664.2,964.1 667.8,961.8 671.2,960.1 674.6,961.7 677.8,959.4 681,957.2 684.1,960.1 687.1,955.1 690.1,955.8 693,955.5 695.8,954.7 698.5,951 701.2,950.3 703.9,951.4 706.5,950.7 709,949.4 711.5,948.1 713.9,947.7 716.3,947.1 718.7,945.7 721,945.5 723.2,944.1 725.4,942.3 727.6,942.4 729.8,939.5 731.9,941.1 734,939.7 736,939.3 738,938.6 740,935.1 741.9,935.2 743.8,937.2 745.7,934.6 747.6,932.5 749.4,930.7" stroke="#0072BD"/>
<polyline points="218,996.5 305,988.4 355.9,983.5 392,980 420,977.6 442.9,973.9 462.2,972 479,970.8 493.8,970.1 507,968.8 519,967 529.9,965.7 539.9,964.6 549.2,962.5 557.9,963.7 566,961.4 573.6,960.9 580.8,959.7 587.6,959.4 594,958.3 600.1,958.1 606,955.9 611.5,956.2 616.9,956 622,957.3 626.9,955 631.7,956.2 636.2,954.3 640.6,953.2 644.9,952.7 649,953.5 653,955.5 656.8,953.6 660.6,951.8 664.2,953.6 667.8,952 671.2,952.8 674.6,951.2 677.8,950.4 681,951.2 684.1,949.4 687.1,952 690.1,950.7 693,950.2 695.8,948.9 698.5,947.3 701.2,948.3 703.9,949.4 706.5,948.4 709,947.3 711.5,949.7 713.9,946.2 716.3,943.4 718.7,944.7 721,946.4 723.2,945.6 725.4,944.3 727.6,941.6 729.8,945.5 731.9,943.2 734,942.6 736,940.9 738,942.7 740,938.7 741.9,943.7 743.8,939.8 745.7,939.3 747.6,941.3 749.4,942.8" stroke="#4DBEEE"/>
<polyline points="181.9,963 268.9,950.9 319.8,944.8 355.9,939.8 383.9,935.1 406.8,931.1 426.1,927.4 442.9,923.8 457.7,921.3 470.9,918 482.9,916.5 493.8,913.3 503.8,911.7 513.1,909.8 521.8,907.9 529.9,904.8 537.5,903.7 544.7,900.4 551.4,899 557.9,899 564,897.2 569.8,895.1 575.4,893.8 580.8,891.9 585.9,891.1 590.8,890.5 595.6,887.8 600.1,889 604.5,885.4 608.8,886.9 612.9,885 616.9,883.7 620.7,881 624.5,881.6 628.1,878.3 631.7,877.8 635.1,880.6 638.4,878.1 641.7,877 644.9,876.2 648,875 651,876.4 654,874.5 656.8,871.5 659.7,872.8 662.4,868.8 665.1,868.9 667.8,870.6 670.4,870 672.9,870.6 675.4,870.2 677.8,870.4 680.2,870.1 682.5,865.8 684.9,866.7 687.1,868.3 689.3,864.2 691.5,863.6 693.7,863.6 695.8,863.4 697.8,863.7 699.9,861.4 701.9,861.9 703.9,861.8 705.8,862.3 707.7,860.6 709.6,859.5 711.5,859.5 713.3,859 715.1,860.1 716.9,861 718.7,860.3 720.4,860.2 722.1,854.5 723.8,857.2 725.4,855.9 727.1,853.7 728.7,852.3 730.3,855 731.9,854.3 733.4,855.3 735,853.5 736.5,853.1 738,854.5 739.5,851 741,854.5 742.4,848.7 743.8,854.9 745.3,850.9 746.7,849.9 748.1,850.5 749.4,852.1" stroke="#A2142F"/>
<polyline points="181.9,1048 268.9,1038.6 319.8,1031.8 355.9,1026.9 383.9,1022.6 406.8,1018.6 426.1,1015.6 442.9,1013.4 457.7,1010.9 470.9,1008.7 482.9,1006.6 493.8,1003.7 503.8,1003.3 513.1,1002.4 521.8,999.7 529.9,998.4 537.5,1000.2 544.7,998.2 551.4,993 557.9,994.4 564,989.7 569.8,993.8 575.4,993.4 580.8,991.3 585.9,994.8 590.8,991.7 595.6,987.4 600.1,989.3 604.5,991.6 608.8,986 612.9,985.3 616.9,986.6 620.7,985.7 624.5,983.5 628.1,983.2 631.7,986.3 635.1,981.8 638.4,978.9 641.7,978.1 644.9,976.5 648,976.4 651,978.4 654,975.6 656.8,980.9 659.7,979.3 662.4,976.6 665.1,973.9 667.8,978.3 670.4,977.4 672.9,978.1 675.4,978.3 677.8,976.2 680.2,975.2 682.5,973.5 684.9,970.5 687.1,975.7 689.3,975.9 691.5,970.9 693.7,970.5 695.8,974.7 697.8,972.4 699.9,970.8 701.9,968.2 703.9,971 705.8,969.3 707.7,966.6 709.6,971.2 711.5,966.1 713.3,966.7 715.1,971 716.9,967.3 718.7,967 720.4,965.3 722.1,964 723.8,964.9 725.4,964.5 727.1,966.4 728.7,961.3 730.3,960.7 731.9,964.7 733.4,963.2 735,962.3 736.5,961.2 738,961.5 739.5,959.4 741,961.3 742.4,962.5 743.8,954 745.3,960.7 746.7,954.4 748.1,955.6 749.4,951.1" stroke="#A2142F"/>
</g>
<line x1="111.5" y1="675.3" x2="111.5" y2="1165.8" stroke="#1a1a1a" stroke-width="1.7"/>
<line x1="110.7" y1="1165" x2="750" y2="1165" stroke="#1a1a1a" stroke-width="1.7"/>
<line x1="111.5" y1="1150.42" x2="115.1" y2="1150.42" stroke="#1a1a1a" stroke-width="1.4"/>
<line x1="111.5" y1="1133.64" x2="115.1" y2="1133.64" stroke="#1a1a1a" stroke-width="1.4"/>
<line x1="111.5" y1="1119.92" x2="115.1" y2="1119.92" stroke="#1a1a1a" stroke-width="1.4"/>
<line x1="111.5" y1="1108.33" x2="115.1" y2="1108.33" stroke="#1a1a1a" stroke-width="1.4"/>
<line x1="111.5" y1="1098.28" x2="115.1" y2="1098.28" stroke="#1a1a1a" stroke-width="1.4"/>
<line x1="111.5" y1="1089.43" x2="115.1" y2="1089.43" stroke="#1a1a1a" stroke-width="1.4"/>
<line x1="111.5" y1="1081.5" x2="118.1" y2="1081.5" stroke="#1a1a1a" stroke-width="1.4"/>
<line x1="111.5" y1="1029.36" x2="115.1" y2="1029.36" stroke="#1a1a1a" stroke-width="1.4"/>
<line x1="111.5" y1="998.86" x2="115.1" y2="998.86" stroke="#1a1a1a" stroke-width="1.4"/>
<line x1="111.5" y1="977.22" x2="115.1" y2="977.22" stroke="#1a1a1a" stroke-width="1.4"/>
<line x1="111.5" y1="960.44" x2="115.1" y2="960.44" stroke="#1a1a1a" stroke-width="1.4"/>
<line x1="111.5" y1="946.72" x2="115.1" y2="946.72" stroke="#1a1a1a" stroke-width="1.4"/>
<line x1="111.5" y1="935.13" x2="115.1" y2="935.13" stroke="#1a1a1a" stroke-width="1.4"/>
<line x1="111.5" y1="925.08" x2="115.1" y2="925.08" stroke="#1a1a1a" stroke-width="1.4"/>
<line x1="111.5" y1="916.23" x2="115.1" y2="916.23" stroke="#1a1a1a" stroke-width="1.4"/>
<line x1="111.5" y1="908.3" x2="118.1" y2="908.3" stroke="#1a1a1a" stroke-width="1.4"/>
<line x1="111.5" y1="856.16" x2="115.1" y2="856.16" stroke="#1a1a1a" stroke-width="1.4"/>
<line x1="111.5" y1="825.66" x2="115.1" y2="825.66" stroke="#1a1a1a" stroke-width="1.4"/>
<line x1="111.5" y1="804.02" x2="115.1" y2="804.02" stroke="#1a1a1a" stroke-width="1.4"/>
<line x1="111.5" y1="787.24" x2="115.1" y2="787.24" stroke="#1a1a1a" stroke-width="1.4"/>
<line x1="111.5" y1="773.52" x2="115.1" y2="773.52" stroke="#1a1a1a" stroke-width="1.4"/>
<line x1="111.5" y1="761.93" x2="115.1" y2="761.93" stroke="#1a1a1a" stroke-width="1.4"/>
<line x1="111.5" y1="751.88" x2="115.1" y2="751.88" stroke="#1a1a1a" stroke-width="1.4"/>
<line x1="111.5" y1="743.03" x2="115.1" y2="743.03" stroke="#1a1a1a" stroke-width="1.4"/>
<line x1="111.5" y1="735.1" x2="118.1" y2="735.1" stroke="#1a1a1a" stroke-width="1.4"/>
<line x1="111.5" y1="682.96" x2="115.1" y2="682.96" stroke="#1a1a1a" stroke-width="1.4"/>
<line x1="131" y1="1165" x2="131" y2="1161.4" stroke="#1a1a1a" stroke-width="1.4"/>
<line x1="181.89" y1="1165" x2="181.89" y2="1161.4" stroke="#1a1a1a" stroke-width="1.4"/>
<line x1="218" y1="1165" x2="218" y2="1161.4" stroke="#1a1a1a" stroke-width="1.4"/>
<line x1="246" y1="1165" x2="246" y2="1161.4" stroke="#1a1a1a" stroke-width="1.4"/>
<line x1="268.89" y1="1165" x2="268.89" y2="1161.4" stroke="#1a1a1a" stroke-width="1.4"/>
<line x1="288.23" y1="1165" x2="288.23" y2="1161.4" stroke="#1a1a1a" stroke-width="1.4"/>
<line x1="304.99" y1="1165" x2="304.99" y2="1161.4" stroke="#1a1a1a" stroke-width="1.4"/>
<line x1="319.78" y1="1165" x2="319.78" y2="1161.4" stroke="#1a1a1a" stroke-width="1.4"/>
<line x1="333" y1="1165" x2="333" y2="1158.4" stroke="#1a1a1a" stroke-width="1.4"/>
<line x1="420" y1="1165" x2="420" y2="1161.4" stroke="#1a1a1a" stroke-width="1.4"/>
<line x1="470.89" y1="1165" x2="470.89" y2="1161.4" stroke="#1a1a1a" stroke-width="1.4"/>
<line x1="507" y1="1165" x2="507" y2="1161.4" stroke="#1a1a1a" stroke-width="1.4"/>
<line x1="535" y1="1165" x2="535" y2="1161.4" stroke="#1a1a1a" stroke-width="1.4"/>
<line x1="557.89" y1="1165" x2="557.89" y2="1161.4" stroke="#1a1a1a" stroke-width="1.4"/>
<line x1="577.23" y1="1165" x2="577.23" y2="1161.4" stroke="#1a1a1a" stroke-width="1.4"/>
<line x1="593.99" y1="1165" x2="593.99" y2="1161.4" stroke="#1a1a1a" stroke-width="1.4"/>
<line x1="608.78" y1="1165" x2="608.78" y2="1161.4" stroke="#1a1a1a" stroke-width="1.4"/>
<line x1="622" y1="1165" x2="622" y2="1158.4" stroke="#1a1a1a" stroke-width="1.4"/>
<line x1="709" y1="1165" x2="709" y2="1161.4" stroke="#1a1a1a" stroke-width="1.4"/>
<text x="44" y="748" font-size="37" fill="#111">10<tspan font-size="29" dy="-11.8">-1</tspan></text>
<text x="44" y="921.2" font-size="37" fill="#111">10<tspan font-size="29" dy="-11.8">-2</tspan></text>
<text x="44" y="1094.4" font-size="37" fill="#111">10<tspan font-size="29" dy="-11.8">-3</tspan></text>
<text x="296.4" y="1207.9" font-size="37" fill="#111">10<tspan font-size="29" dy="-14.9">-1</tspan></text>
<text x="587.8" y="1207.9" font-size="37" fill="#111">10<tspan font-size="29" dy="-14.9">0</tspan></text>
<text x="471" y="1241.7" font-size="41" text-anchor="middle" fill="#111" font-weight="normal" >Lag Time (s)</text>
<text transform="translate(38.5,886) rotate(-90)" font-size="41.5" text-anchor="middle" fill="#111">MSD (μm<tspan font-size="21" dy="-20">2</tspan><tspan dy="20">)</tspan></text>
</svg></body></html>
